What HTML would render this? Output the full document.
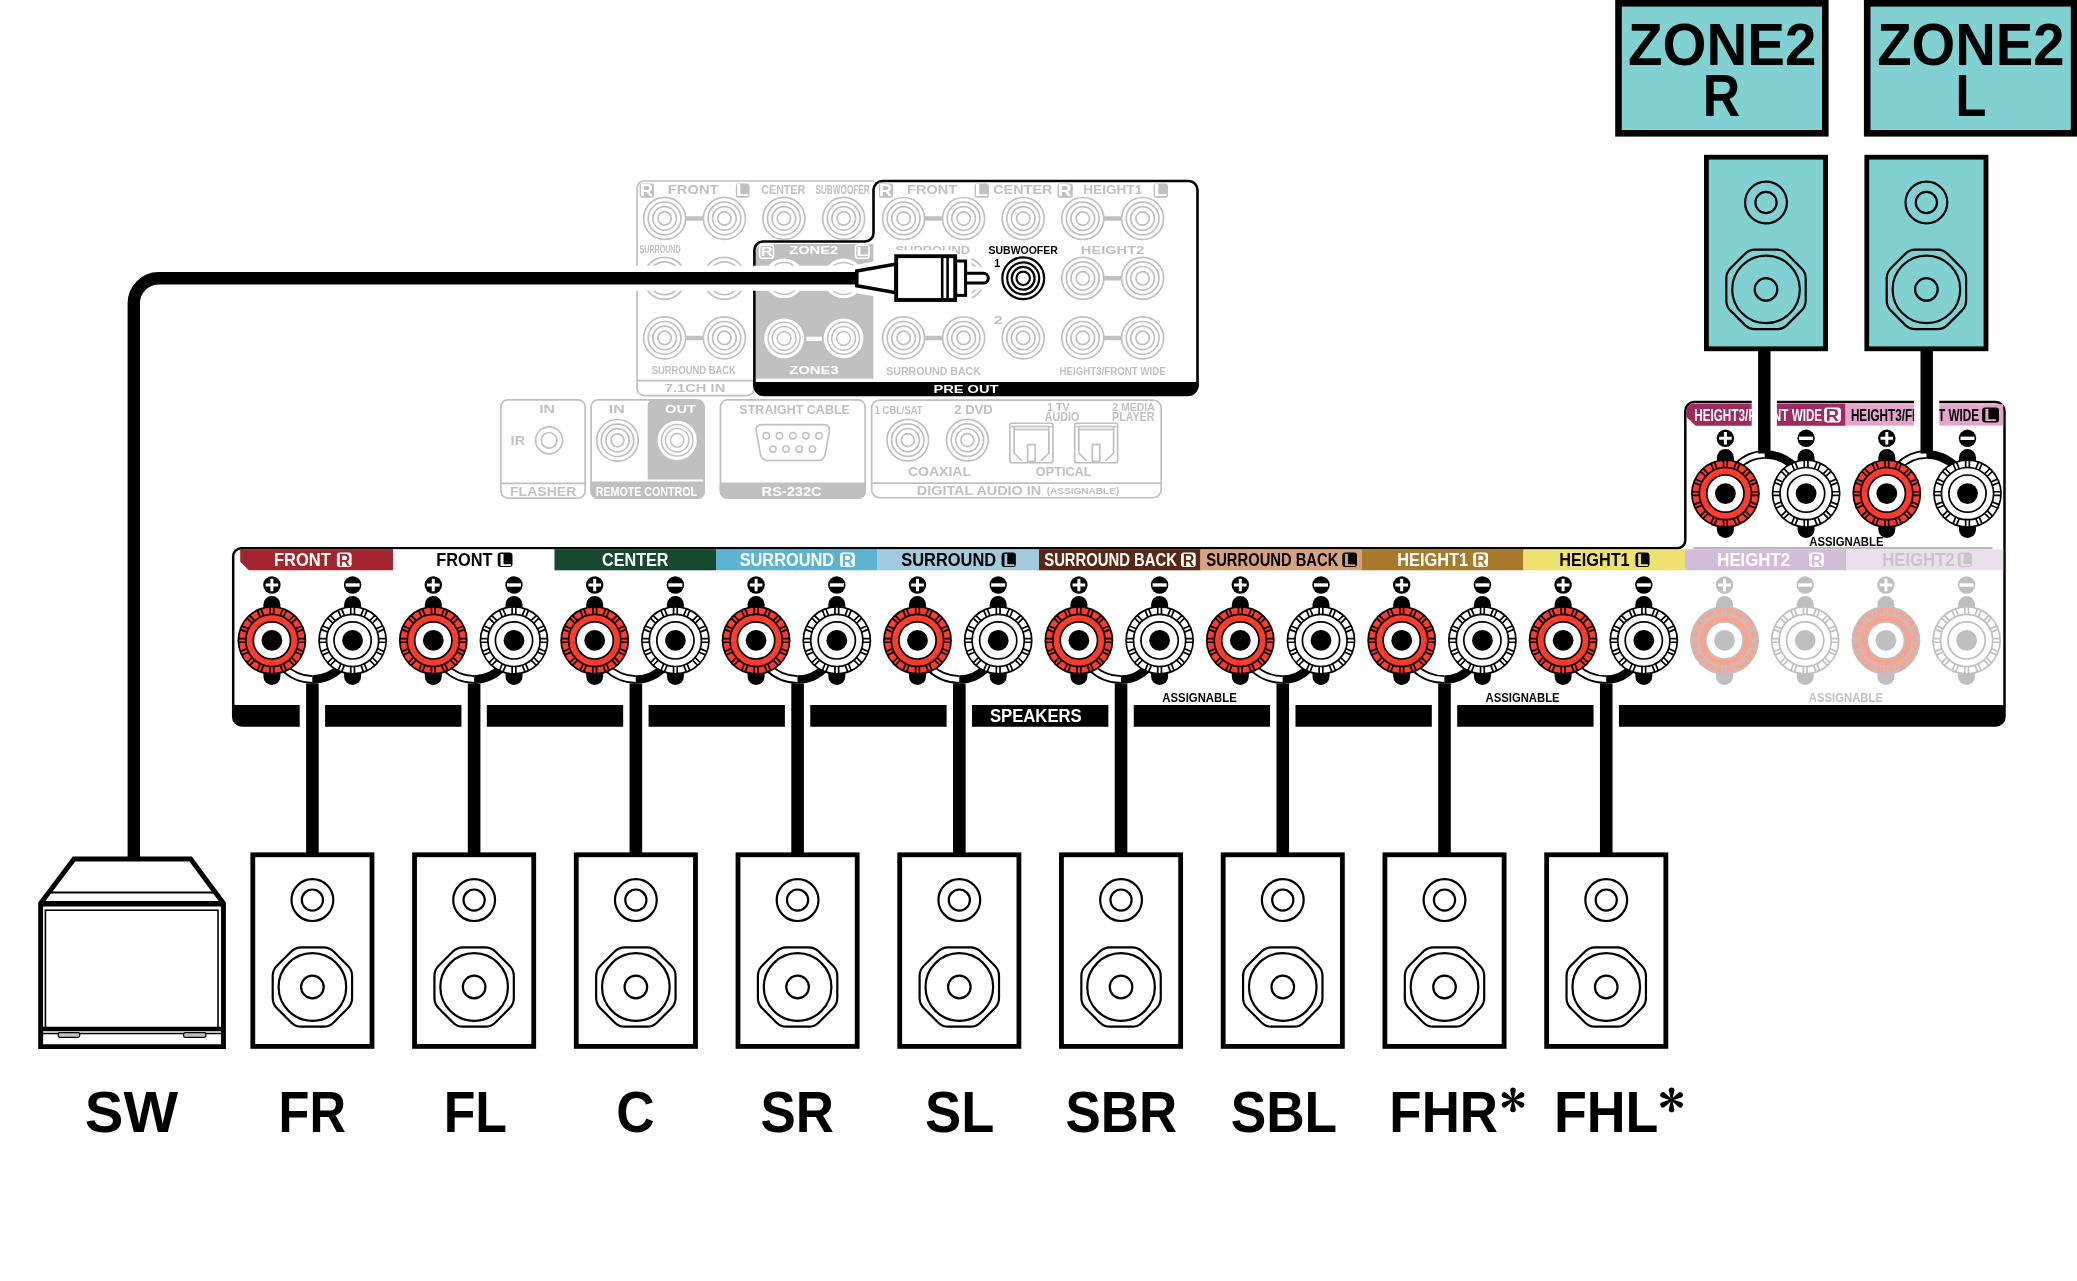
<!DOCTYPE html>
<html><head><meta charset="utf-8"><style>
html,body{margin:0;padding:0;background:#fff;overflow:hidden;width:2077px;height:1281px;}
svg{display:block;font-family:"Liberation Sans",sans-serif;will-change:transform;}
</style></head><body>
<svg width="2077" height="1281" viewBox="0 0 2077 1281">
<rect width="2077" height="1281" fill="#fff"/>
<path d="M233.2 706V556.2A8 8 0 0 1 241.2 548.2H1677.3A8 8 0 0 0 1685.3 540.2V411A9 9 0 0 1 1694.3 402H1995.5A9 9 0 0 1 2004.5 411V706" fill="none" stroke="#000" stroke-width="2.5"/>
<path d="M1693.5 548.2H1992.5" stroke="#B8B8B8" stroke-width="2.2"/>
<path d="M240.2 549.3H393.0V570.3H248.8L240.2 561.6999999999999Z" fill="#A3262F"/>
<text x="273.89" y="566.10" font-size="17.44" font-weight="bold" textLength="56.98" lengthAdjust="spacingAndGlyphs" fill="#fff">FRONT</text>
<rect x="336.90" y="552.4" width="14.70" height="14.6" rx="3" fill="#fff"/>
<text x="338.73" y="565.60" font-size="16.42" font-weight="bold" textLength="11.60" lengthAdjust="spacingAndGlyphs" fill="#A3262F">R</text>
<rect x="393.0" y="549.3" width="161.50" height="21.00" fill="#ffffff"/>
<text x="436.21" y="566.10" font-size="17.44" font-weight="bold" textLength="56.17" lengthAdjust="spacingAndGlyphs" fill="#000">FRONT</text>
<rect x="497.70" y="552.4" width="14.80" height="14.6" rx="3" fill="#000"/>
<text x="499.26" y="565.60" font-size="16.42" font-weight="bold" textLength="12.26" lengthAdjust="spacingAndGlyphs" fill="#ffffff">L</text>
<rect x="554.5" y="549.3" width="161.50" height="21.00" fill="#154A2F"/>
<text x="601.94" y="566.10" font-size="17.44" font-weight="bold" textLength="66.60" lengthAdjust="spacingAndGlyphs" fill="#fff">CENTER</text>
<rect x="716.0" y="549.3" width="161.50" height="21.00" fill="#5DB4D2"/>
<text x="739.63" y="566.10" font-size="17.44" font-weight="bold" textLength="94.46" lengthAdjust="spacingAndGlyphs" fill="#fff">SURROUND</text>
<rect x="840.00" y="552.4" width="14.80" height="14.6" rx="3" fill="#fff"/>
<text x="841.81" y="565.60" font-size="16.42" font-weight="bold" textLength="11.72" lengthAdjust="spacingAndGlyphs" fill="#5DB4D2">R</text>
<rect x="877.5" y="549.3" width="161.50" height="21.00" fill="#A2CCDD"/>
<text x="901.23" y="566.10" font-size="17.44" font-weight="bold" textLength="94.96" lengthAdjust="spacingAndGlyphs" fill="#000">SURROUND</text>
<rect x="1001.60" y="552.4" width="14.30" height="14.6" rx="3" fill="#000"/>
<text x="1003.22" y="565.60" font-size="16.42" font-weight="bold" textLength="11.66" lengthAdjust="spacingAndGlyphs" fill="#A2CCDD">L</text>
<rect x="1039.0" y="549.3" width="161.50" height="21.00" fill="#5B2714"/>
<text x="1044.27" y="566.10" font-size="17.44" font-weight="bold" textLength="132.66" lengthAdjust="spacingAndGlyphs" fill="#fff">SURROUND BACK</text>
<rect x="1181.00" y="552.4" width="14.70" height="14.6" rx="3" fill="#fff"/>
<text x="1182.83" y="565.60" font-size="16.42" font-weight="bold" textLength="11.60" lengthAdjust="spacingAndGlyphs" fill="#5B2714">R</text>
<rect x="1200.5" y="549.3" width="161.50" height="21.00" fill="#D8A27F"/>
<text x="1206.37" y="566.10" font-size="17.44" font-weight="bold" textLength="131.96" lengthAdjust="spacingAndGlyphs" fill="#000">SURROUND BACK</text>
<rect x="1342.30" y="552.4" width="14.70" height="14.6" rx="3" fill="#000"/>
<text x="1343.87" y="565.60" font-size="16.42" font-weight="bold" textLength="12.14" lengthAdjust="spacingAndGlyphs" fill="#D8A27F">L</text>
<rect x="1362.0" y="549.3" width="161.50" height="21.00" fill="#A67B2B"/>
<text x="1397.21" y="566.10" font-size="17.44" font-weight="bold" textLength="70.85" lengthAdjust="spacingAndGlyphs" fill="#fff">HEIGHT1</text>
<rect x="1473.20" y="552.4" width="14.80" height="14.6" rx="3" fill="#fff"/>
<text x="1475.01" y="565.60" font-size="16.42" font-weight="bold" textLength="11.72" lengthAdjust="spacingAndGlyphs" fill="#A67B2B">R</text>
<rect x="1523.5" y="549.3" width="161.50" height="21.00" fill="#EFE170"/>
<text x="1559.21" y="566.10" font-size="17.44" font-weight="bold" textLength="70.44" lengthAdjust="spacingAndGlyphs" fill="#000">HEIGHT1</text>
<rect x="1635.40" y="552.4" width="14.10" height="14.6" rx="3" fill="#000"/>
<text x="1637.05" y="565.60" font-size="16.42" font-weight="bold" textLength="11.43" lengthAdjust="spacingAndGlyphs" fill="#EFE170">L</text>
<rect x="1685.0" y="549.3" width="161.50" height="21.00" fill="#D3BCDA"/>
<text x="1717.28" y="566.10" font-size="17.44" font-weight="bold" textLength="72.80" lengthAdjust="spacingAndGlyphs" fill="#fff">HEIGHT2</text>
<rect x="1809.10" y="552.4" width="14.70" height="14.6" rx="3" fill="#fff"/>
<text x="1810.93" y="565.60" font-size="16.42" font-weight="bold" textLength="11.60" lengthAdjust="spacingAndGlyphs" fill="#D3BCDA">R</text>
<rect x="1846.5" y="549.3" width="156.70" height="21.00" fill="#EBDFEE"/>
<text x="1882.18" y="566.10" font-size="17.44" font-weight="bold" textLength="72.49" lengthAdjust="spacingAndGlyphs" fill="#C6C6C6">HEIGHT2</text>
<rect x="1957.80" y="552.4" width="14.10" height="14.6" rx="3" fill="#C6C6C6"/>
<text x="1959.45" y="565.60" font-size="16.42" font-weight="bold" textLength="11.43" lengthAdjust="spacingAndGlyphs" fill="#EBDFEE">L</text>
<path d="M1693.5 403.8H1845.6V425.8H1695.6L1686.6 417V410.7A6.9 6.9 0 0 1 1693.5 403.8Z" fill="#9E2A5F"/>
<rect x="1845.6" y="404.2" width="157.6" height="21.4" fill="#E3A3CC"/>
<text x="1694.32" y="420.80" font-size="16.28" font-weight="bold" textLength="127.84" lengthAdjust="spacingAndGlyphs" fill="#fff">HEIGHT3/FRONT WIDE</text>
<rect x="1824.1" y="407.4" width="16.8" height="15" rx="3" fill="#fff"/>
<text x="1825.67" y="420.80" font-size="16.57" font-weight="bold" textLength="13.31" lengthAdjust="spacingAndGlyphs" fill="#9E2A5F">R</text>
<text x="1850.92" y="420.80" font-size="16.28" font-weight="bold" textLength="128.14" lengthAdjust="spacingAndGlyphs" fill="#000">HEIGHT3/FRONT WIDE</text>
<rect x="1982.1" y="407.4" width="16.9" height="15" rx="3" fill="#000"/>
<text x="1984.02" y="420.80" font-size="16.57" font-weight="bold" textLength="12.62" lengthAdjust="spacingAndGlyphs" fill="#E3A3CC">L</text>
<circle cx="271.90" cy="585.00" r="8.7" fill="#000"/><path d="M265.60 585.00H278.20M271.90 578.70V591.30" stroke="#fff" stroke-width="3"/>
<circle cx="352.60" cy="585.00" r="8.7" fill="#000"/><path d="M345.60 585.00H359.60" stroke="#fff" stroke-width="3.4"/>
<circle cx="433.30" cy="585.00" r="8.7" fill="#000"/><path d="M427.00 585.00H439.60M433.30 578.70V591.30" stroke="#fff" stroke-width="3"/>
<circle cx="514.00" cy="585.00" r="8.7" fill="#000"/><path d="M507.00 585.00H521.00" stroke="#fff" stroke-width="3.4"/>
<circle cx="594.70" cy="585.00" r="8.7" fill="#000"/><path d="M588.40 585.00H601.00M594.70 578.70V591.30" stroke="#fff" stroke-width="3"/>
<circle cx="675.40" cy="585.00" r="8.7" fill="#000"/><path d="M668.40 585.00H682.40" stroke="#fff" stroke-width="3.4"/>
<circle cx="756.10" cy="585.00" r="8.7" fill="#000"/><path d="M749.80 585.00H762.40M756.10 578.70V591.30" stroke="#fff" stroke-width="3"/>
<circle cx="836.80" cy="585.00" r="8.7" fill="#000"/><path d="M829.80 585.00H843.80" stroke="#fff" stroke-width="3.4"/>
<circle cx="917.50" cy="585.00" r="8.7" fill="#000"/><path d="M911.20 585.00H923.80M917.50 578.70V591.30" stroke="#fff" stroke-width="3"/>
<circle cx="998.20" cy="585.00" r="8.7" fill="#000"/><path d="M991.20 585.00H1005.20" stroke="#fff" stroke-width="3.4"/>
<circle cx="1078.90" cy="585.00" r="8.7" fill="#000"/><path d="M1072.60 585.00H1085.20M1078.90 578.70V591.30" stroke="#fff" stroke-width="3"/>
<circle cx="1159.60" cy="585.00" r="8.7" fill="#000"/><path d="M1152.60 585.00H1166.60" stroke="#fff" stroke-width="3.4"/>
<circle cx="1240.30" cy="585.00" r="8.7" fill="#000"/><path d="M1234.00 585.00H1246.60M1240.30 578.70V591.30" stroke="#fff" stroke-width="3"/>
<circle cx="1321.00" cy="585.00" r="8.7" fill="#000"/><path d="M1314.00 585.00H1328.00" stroke="#fff" stroke-width="3.4"/>
<circle cx="1401.70" cy="585.00" r="8.7" fill="#000"/><path d="M1395.40 585.00H1408.00M1401.70 578.70V591.30" stroke="#fff" stroke-width="3"/>
<circle cx="1482.40" cy="585.00" r="8.7" fill="#000"/><path d="M1475.40 585.00H1489.40" stroke="#fff" stroke-width="3.4"/>
<circle cx="1563.10" cy="585.00" r="8.7" fill="#000"/><path d="M1556.80 585.00H1569.40M1563.10 578.70V591.30" stroke="#fff" stroke-width="3"/>
<circle cx="1643.80" cy="585.00" r="8.7" fill="#000"/><path d="M1636.80 585.00H1650.80" stroke="#fff" stroke-width="3.4"/>
<circle cx="1724.50" cy="585.00" r="8.7" fill="#BFBFBF"/><path d="M1718.20 585.00H1730.80M1724.50 578.70V591.30" stroke="#fff" stroke-width="3"/>
<circle cx="1805.20" cy="585.00" r="8.7" fill="#BFBFBF"/><path d="M1798.20 585.00H1812.20" stroke="#fff" stroke-width="3.4"/>
<circle cx="1885.90" cy="585.00" r="8.7" fill="#BFBFBF"/><path d="M1879.60 585.00H1892.20M1885.90 578.70V591.30" stroke="#fff" stroke-width="3"/>
<circle cx="1966.60" cy="585.00" r="8.7" fill="#BFBFBF"/><path d="M1959.60 585.00H1973.60" stroke="#fff" stroke-width="3.4"/>
<path d="M271.90 638.00A40.50 41.5 0 0 0 312.40 679.50" fill="none" stroke="#000" stroke-width="8.6"/><path d="M271.90 638.00A40.50 41.5 0 0 0 312.40 679.50" fill="none" stroke="#fff" stroke-width="5.0"/><path d="M312.40 679.50A40.20 41.5 0 0 0 352.60 638.00" fill="none" stroke="#000" stroke-width="8.6"/>
<path d="M433.30 638.00A40.83 41.5 0 0 0 474.13 679.50" fill="none" stroke="#000" stroke-width="8.6"/><path d="M433.30 638.00A40.83 41.5 0 0 0 474.13 679.50" fill="none" stroke="#fff" stroke-width="5.0"/><path d="M474.13 679.50A39.87 41.5 0 0 0 514.00 638.00" fill="none" stroke="#000" stroke-width="8.6"/>
<path d="M594.70 638.00A41.16 41.5 0 0 0 635.86 679.50" fill="none" stroke="#000" stroke-width="8.6"/><path d="M594.70 638.00A41.16 41.5 0 0 0 635.86 679.50" fill="none" stroke="#fff" stroke-width="5.0"/><path d="M635.86 679.50A39.54 41.5 0 0 0 675.40 638.00" fill="none" stroke="#000" stroke-width="8.6"/>
<path d="M756.10 638.00A41.49 41.5 0 0 0 797.59 679.50" fill="none" stroke="#000" stroke-width="8.6"/><path d="M756.10 638.00A41.49 41.5 0 0 0 797.59 679.50" fill="none" stroke="#fff" stroke-width="5.0"/><path d="M797.59 679.50A39.21 41.5 0 0 0 836.80 638.00" fill="none" stroke="#000" stroke-width="8.6"/>
<path d="M917.50 638.00A41.82 41.5 0 0 0 959.32 679.50" fill="none" stroke="#000" stroke-width="8.6"/><path d="M917.50 638.00A41.82 41.5 0 0 0 959.32 679.50" fill="none" stroke="#fff" stroke-width="5.0"/><path d="M959.32 679.50A38.88 41.5 0 0 0 998.20 638.00" fill="none" stroke="#000" stroke-width="8.6"/>
<path d="M1078.90 638.00A42.15 41.5 0 0 0 1121.05 679.50" fill="none" stroke="#000" stroke-width="8.6"/><path d="M1078.90 638.00A42.15 41.5 0 0 0 1121.05 679.50" fill="none" stroke="#fff" stroke-width="5.0"/><path d="M1121.05 679.50A38.55 41.5 0 0 0 1159.60 638.00" fill="none" stroke="#000" stroke-width="8.6"/>
<path d="M1240.30 638.00A42.48 41.5 0 0 0 1282.78 679.50" fill="none" stroke="#000" stroke-width="8.6"/><path d="M1240.30 638.00A42.48 41.5 0 0 0 1282.78 679.50" fill="none" stroke="#fff" stroke-width="5.0"/><path d="M1282.78 679.50A38.22 41.5 0 0 0 1321.00 638.00" fill="none" stroke="#000" stroke-width="8.6"/>
<path d="M1401.70 638.00A42.81 41.5 0 0 0 1444.51 679.50" fill="none" stroke="#000" stroke-width="8.6"/><path d="M1401.70 638.00A42.81 41.5 0 0 0 1444.51 679.50" fill="none" stroke="#fff" stroke-width="5.0"/><path d="M1444.51 679.50A37.89 41.5 0 0 0 1482.40 638.00" fill="none" stroke="#000" stroke-width="8.6"/>
<path d="M1563.10 638.00A43.14 41.5 0 0 0 1606.24 679.50" fill="none" stroke="#000" stroke-width="8.6"/><path d="M1563.10 638.00A43.14 41.5 0 0 0 1606.24 679.50" fill="none" stroke="#fff" stroke-width="5.0"/><path d="M1606.24 679.50A37.56 41.5 0 0 0 1643.80 638.00" fill="none" stroke="#000" stroke-width="8.6"/>
<rect x="263.40" y="595.90" width="17" height="89" rx="8.5" fill="#000"/><circle cx="271.90" cy="640.40" r="34.4" fill="#000"/><circle cx="271.90" cy="640.40" r="32.7" fill="#FF3B2B"/><path d="M270.05 614.40L270.05 607.10M273.75 614.40L273.75 607.10M280.14 615.67L282.93 608.93M283.56 617.09L286.35 610.34M288.98 620.71L294.14 615.55M291.59 623.32L296.75 618.16M295.21 628.74L301.96 625.95M296.63 632.16L303.37 629.37M297.90 638.55L305.20 638.55M297.90 642.25L305.20 642.25M296.63 648.64L303.37 651.43M295.21 652.06L301.96 654.85M291.59 657.48L296.75 662.64M288.98 660.09L294.14 665.25M283.56 663.71L286.35 670.46M280.14 665.13L282.93 671.87M273.75 666.40L273.75 673.70M270.05 666.40L270.05 673.70M263.66 665.13L260.87 671.87M260.24 663.71L257.45 670.46M254.82 660.09L249.66 665.25M252.21 657.48L247.05 662.64M248.59 652.06L241.84 654.85M247.17 648.64L240.43 651.43M245.90 642.25L238.60 642.25M245.90 638.55L238.60 638.55M247.17 632.16L240.43 629.37M248.59 628.74L241.84 625.95M252.21 623.32L247.05 618.16M254.82 620.71L249.66 615.55M260.24 617.09L257.45 610.34M263.66 615.67L260.87 608.93" stroke="#000" stroke-width="1.7"/><circle cx="271.90" cy="640.40" r="26.1" fill="#FF3B2B" stroke="#000" stroke-width="1.7"/><circle cx="271.90" cy="640.40" r="18.6" fill="#fff" stroke="#000" stroke-width="1.7"/><circle cx="271.90" cy="640.40" r="10.4" fill="#000"/>
<rect x="344.10" y="595.90" width="17" height="89" rx="8.5" fill="#000"/><circle cx="352.60" cy="640.40" r="34.4" fill="#000"/><circle cx="352.60" cy="640.40" r="32.7" fill="#fff"/><path d="M350.75 614.40L350.75 607.10M354.45 614.40L354.45 607.10M360.84 615.67L363.63 608.93M364.26 617.09L367.05 610.34M369.68 620.71L374.84 615.55M372.29 623.32L377.45 618.16M375.91 628.74L382.66 625.95M377.33 632.16L384.07 629.37M378.60 638.55L385.90 638.55M378.60 642.25L385.90 642.25M377.33 648.64L384.07 651.43M375.91 652.06L382.66 654.85M372.29 657.48L377.45 662.64M369.68 660.09L374.84 665.25M364.26 663.71L367.05 670.46M360.84 665.13L363.63 671.87M354.45 666.40L354.45 673.70M350.75 666.40L350.75 673.70M344.36 665.13L341.57 671.87M340.94 663.71L338.15 670.46M335.52 660.09L330.36 665.25M332.91 657.48L327.75 662.64M329.29 652.06L322.54 654.85M327.87 648.64L321.13 651.43M326.60 642.25L319.30 642.25M326.60 638.55L319.30 638.55M327.87 632.16L321.13 629.37M329.29 628.74L322.54 625.95M332.91 623.32L327.75 618.16M335.52 620.71L330.36 615.55M340.94 617.09L338.15 610.34M344.36 615.67L341.57 608.93" stroke="#000" stroke-width="1.7"/><circle cx="352.60" cy="640.40" r="26.1" fill="#fff" stroke="#000" stroke-width="1.7"/><circle cx="352.60" cy="640.40" r="18.6" fill="#fff" stroke="#000" stroke-width="1.7"/><circle cx="352.60" cy="640.40" r="10.4" fill="#000"/>
<rect x="424.80" y="595.90" width="17" height="89" rx="8.5" fill="#000"/><circle cx="433.30" cy="640.40" r="34.4" fill="#000"/><circle cx="433.30" cy="640.40" r="32.7" fill="#FF3B2B"/><path d="M431.45 614.40L431.45 607.10M435.15 614.40L435.15 607.10M441.54 615.67L444.33 608.93M444.96 617.09L447.75 610.34M450.38 620.71L455.54 615.55M452.99 623.32L458.15 618.16M456.61 628.74L463.36 625.95M458.03 632.16L464.77 629.37M459.30 638.55L466.60 638.55M459.30 642.25L466.60 642.25M458.03 648.64L464.77 651.43M456.61 652.06L463.36 654.85M452.99 657.48L458.15 662.64M450.38 660.09L455.54 665.25M444.96 663.71L447.75 670.46M441.54 665.13L444.33 671.87M435.15 666.40L435.15 673.70M431.45 666.40L431.45 673.70M425.06 665.13L422.27 671.87M421.64 663.71L418.85 670.46M416.22 660.09L411.06 665.25M413.61 657.48L408.45 662.64M409.99 652.06L403.24 654.85M408.57 648.64L401.83 651.43M407.30 642.25L400.00 642.25M407.30 638.55L400.00 638.55M408.57 632.16L401.83 629.37M409.99 628.74L403.24 625.95M413.61 623.32L408.45 618.16M416.22 620.71L411.06 615.55M421.64 617.09L418.85 610.34M425.06 615.67L422.27 608.93" stroke="#000" stroke-width="1.7"/><circle cx="433.30" cy="640.40" r="26.1" fill="#FF3B2B" stroke="#000" stroke-width="1.7"/><circle cx="433.30" cy="640.40" r="18.6" fill="#fff" stroke="#000" stroke-width="1.7"/><circle cx="433.30" cy="640.40" r="10.4" fill="#000"/>
<rect x="505.50" y="595.90" width="17" height="89" rx="8.5" fill="#000"/><circle cx="514.00" cy="640.40" r="34.4" fill="#000"/><circle cx="514.00" cy="640.40" r="32.7" fill="#fff"/><path d="M512.15 614.40L512.15 607.10M515.85 614.40L515.85 607.10M522.24 615.67L525.03 608.93M525.66 617.09L528.45 610.34M531.08 620.71L536.24 615.55M533.69 623.32L538.85 618.16M537.31 628.74L544.06 625.95M538.73 632.16L545.47 629.37M540.00 638.55L547.30 638.55M540.00 642.25L547.30 642.25M538.73 648.64L545.47 651.43M537.31 652.06L544.06 654.85M533.69 657.48L538.85 662.64M531.08 660.09L536.24 665.25M525.66 663.71L528.45 670.46M522.24 665.13L525.03 671.87M515.85 666.40L515.85 673.70M512.15 666.40L512.15 673.70M505.76 665.13L502.97 671.87M502.34 663.71L499.55 670.46M496.92 660.09L491.76 665.25M494.31 657.48L489.15 662.64M490.69 652.06L483.94 654.85M489.27 648.64L482.53 651.43M488.00 642.25L480.70 642.25M488.00 638.55L480.70 638.55M489.27 632.16L482.53 629.37M490.69 628.74L483.94 625.95M494.31 623.32L489.15 618.16M496.92 620.71L491.76 615.55M502.34 617.09L499.55 610.34M505.76 615.67L502.97 608.93" stroke="#000" stroke-width="1.7"/><circle cx="514.00" cy="640.40" r="26.1" fill="#fff" stroke="#000" stroke-width="1.7"/><circle cx="514.00" cy="640.40" r="18.6" fill="#fff" stroke="#000" stroke-width="1.7"/><circle cx="514.00" cy="640.40" r="10.4" fill="#000"/>
<rect x="586.20" y="595.90" width="17" height="89" rx="8.5" fill="#000"/><circle cx="594.70" cy="640.40" r="34.4" fill="#000"/><circle cx="594.70" cy="640.40" r="32.7" fill="#FF3B2B"/><path d="M592.85 614.40L592.85 607.10M596.55 614.40L596.55 607.10M602.94 615.67L605.73 608.93M606.36 617.09L609.15 610.34M611.78 620.71L616.94 615.55M614.39 623.32L619.55 618.16M618.01 628.74L624.76 625.95M619.43 632.16L626.17 629.37M620.70 638.55L628.00 638.55M620.70 642.25L628.00 642.25M619.43 648.64L626.17 651.43M618.01 652.06L624.76 654.85M614.39 657.48L619.55 662.64M611.78 660.09L616.94 665.25M606.36 663.71L609.15 670.46M602.94 665.13L605.73 671.87M596.55 666.40L596.55 673.70M592.85 666.40L592.85 673.70M586.46 665.13L583.67 671.87M583.04 663.71L580.25 670.46M577.62 660.09L572.46 665.25M575.01 657.48L569.85 662.64M571.39 652.06L564.64 654.85M569.97 648.64L563.23 651.43M568.70 642.25L561.40 642.25M568.70 638.55L561.40 638.55M569.97 632.16L563.23 629.37M571.39 628.74L564.64 625.95M575.01 623.32L569.85 618.16M577.62 620.71L572.46 615.55M583.04 617.09L580.25 610.34M586.46 615.67L583.67 608.93" stroke="#000" stroke-width="1.7"/><circle cx="594.70" cy="640.40" r="26.1" fill="#FF3B2B" stroke="#000" stroke-width="1.7"/><circle cx="594.70" cy="640.40" r="18.6" fill="#fff" stroke="#000" stroke-width="1.7"/><circle cx="594.70" cy="640.40" r="10.4" fill="#000"/>
<rect x="666.90" y="595.90" width="17" height="89" rx="8.5" fill="#000"/><circle cx="675.40" cy="640.40" r="34.4" fill="#000"/><circle cx="675.40" cy="640.40" r="32.7" fill="#fff"/><path d="M673.55 614.40L673.55 607.10M677.25 614.40L677.25 607.10M683.64 615.67L686.43 608.93M687.06 617.09L689.85 610.34M692.48 620.71L697.64 615.55M695.09 623.32L700.25 618.16M698.71 628.74L705.46 625.95M700.13 632.16L706.87 629.37M701.40 638.55L708.70 638.55M701.40 642.25L708.70 642.25M700.13 648.64L706.87 651.43M698.71 652.06L705.46 654.85M695.09 657.48L700.25 662.64M692.48 660.09L697.64 665.25M687.06 663.71L689.85 670.46M683.64 665.13L686.43 671.87M677.25 666.40L677.25 673.70M673.55 666.40L673.55 673.70M667.16 665.13L664.37 671.87M663.74 663.71L660.95 670.46M658.32 660.09L653.16 665.25M655.71 657.48L650.55 662.64M652.09 652.06L645.34 654.85M650.67 648.64L643.93 651.43M649.40 642.25L642.10 642.25M649.40 638.55L642.10 638.55M650.67 632.16L643.93 629.37M652.09 628.74L645.34 625.95M655.71 623.32L650.55 618.16M658.32 620.71L653.16 615.55M663.74 617.09L660.95 610.34M667.16 615.67L664.37 608.93" stroke="#000" stroke-width="1.7"/><circle cx="675.40" cy="640.40" r="26.1" fill="#fff" stroke="#000" stroke-width="1.7"/><circle cx="675.40" cy="640.40" r="18.6" fill="#fff" stroke="#000" stroke-width="1.7"/><circle cx="675.40" cy="640.40" r="10.4" fill="#000"/>
<rect x="747.60" y="595.90" width="17" height="89" rx="8.5" fill="#000"/><circle cx="756.10" cy="640.40" r="34.4" fill="#000"/><circle cx="756.10" cy="640.40" r="32.7" fill="#FF3B2B"/><path d="M754.25 614.40L754.25 607.10M757.95 614.40L757.95 607.10M764.34 615.67L767.13 608.93M767.76 617.09L770.55 610.34M773.18 620.71L778.34 615.55M775.79 623.32L780.95 618.16M779.41 628.74L786.16 625.95M780.83 632.16L787.57 629.37M782.10 638.55L789.40 638.55M782.10 642.25L789.40 642.25M780.83 648.64L787.57 651.43M779.41 652.06L786.16 654.85M775.79 657.48L780.95 662.64M773.18 660.09L778.34 665.25M767.76 663.71L770.55 670.46M764.34 665.13L767.13 671.87M757.95 666.40L757.95 673.70M754.25 666.40L754.25 673.70M747.86 665.13L745.07 671.87M744.44 663.71L741.65 670.46M739.02 660.09L733.86 665.25M736.41 657.48L731.25 662.64M732.79 652.06L726.04 654.85M731.37 648.64L724.63 651.43M730.10 642.25L722.80 642.25M730.10 638.55L722.80 638.55M731.37 632.16L724.63 629.37M732.79 628.74L726.04 625.95M736.41 623.32L731.25 618.16M739.02 620.71L733.86 615.55M744.44 617.09L741.65 610.34M747.86 615.67L745.07 608.93" stroke="#000" stroke-width="1.7"/><circle cx="756.10" cy="640.40" r="26.1" fill="#FF3B2B" stroke="#000" stroke-width="1.7"/><circle cx="756.10" cy="640.40" r="18.6" fill="#fff" stroke="#000" stroke-width="1.7"/><circle cx="756.10" cy="640.40" r="10.4" fill="#000"/>
<rect x="828.30" y="595.90" width="17" height="89" rx="8.5" fill="#000"/><circle cx="836.80" cy="640.40" r="34.4" fill="#000"/><circle cx="836.80" cy="640.40" r="32.7" fill="#fff"/><path d="M834.95 614.40L834.95 607.10M838.65 614.40L838.65 607.10M845.04 615.67L847.83 608.93M848.46 617.09L851.25 610.34M853.88 620.71L859.04 615.55M856.49 623.32L861.65 618.16M860.11 628.74L866.86 625.95M861.53 632.16L868.27 629.37M862.80 638.55L870.10 638.55M862.80 642.25L870.10 642.25M861.53 648.64L868.27 651.43M860.11 652.06L866.86 654.85M856.49 657.48L861.65 662.64M853.88 660.09L859.04 665.25M848.46 663.71L851.25 670.46M845.04 665.13L847.83 671.87M838.65 666.40L838.65 673.70M834.95 666.40L834.95 673.70M828.56 665.13L825.77 671.87M825.14 663.71L822.35 670.46M819.72 660.09L814.56 665.25M817.11 657.48L811.95 662.64M813.49 652.06L806.74 654.85M812.07 648.64L805.33 651.43M810.80 642.25L803.50 642.25M810.80 638.55L803.50 638.55M812.07 632.16L805.33 629.37M813.49 628.74L806.74 625.95M817.11 623.32L811.95 618.16M819.72 620.71L814.56 615.55M825.14 617.09L822.35 610.34M828.56 615.67L825.77 608.93" stroke="#000" stroke-width="1.7"/><circle cx="836.80" cy="640.40" r="26.1" fill="#fff" stroke="#000" stroke-width="1.7"/><circle cx="836.80" cy="640.40" r="18.6" fill="#fff" stroke="#000" stroke-width="1.7"/><circle cx="836.80" cy="640.40" r="10.4" fill="#000"/>
<rect x="909.00" y="595.90" width="17" height="89" rx="8.5" fill="#000"/><circle cx="917.50" cy="640.40" r="34.4" fill="#000"/><circle cx="917.50" cy="640.40" r="32.7" fill="#FF3B2B"/><path d="M915.65 614.40L915.65 607.10M919.35 614.40L919.35 607.10M925.74 615.67L928.53 608.93M929.16 617.09L931.95 610.34M934.58 620.71L939.74 615.55M937.19 623.32L942.35 618.16M940.81 628.74L947.56 625.95M942.23 632.16L948.97 629.37M943.50 638.55L950.80 638.55M943.50 642.25L950.80 642.25M942.23 648.64L948.97 651.43M940.81 652.06L947.56 654.85M937.19 657.48L942.35 662.64M934.58 660.09L939.74 665.25M929.16 663.71L931.95 670.46M925.74 665.13L928.53 671.87M919.35 666.40L919.35 673.70M915.65 666.40L915.65 673.70M909.26 665.13L906.47 671.87M905.84 663.71L903.05 670.46M900.42 660.09L895.26 665.25M897.81 657.48L892.65 662.64M894.19 652.06L887.44 654.85M892.77 648.64L886.03 651.43M891.50 642.25L884.20 642.25M891.50 638.55L884.20 638.55M892.77 632.16L886.03 629.37M894.19 628.74L887.44 625.95M897.81 623.32L892.65 618.16M900.42 620.71L895.26 615.55M905.84 617.09L903.05 610.34M909.26 615.67L906.47 608.93" stroke="#000" stroke-width="1.7"/><circle cx="917.50" cy="640.40" r="26.1" fill="#FF3B2B" stroke="#000" stroke-width="1.7"/><circle cx="917.50" cy="640.40" r="18.6" fill="#fff" stroke="#000" stroke-width="1.7"/><circle cx="917.50" cy="640.40" r="10.4" fill="#000"/>
<rect x="989.70" y="595.90" width="17" height="89" rx="8.5" fill="#000"/><circle cx="998.20" cy="640.40" r="34.4" fill="#000"/><circle cx="998.20" cy="640.40" r="32.7" fill="#fff"/><path d="M996.35 614.40L996.35 607.10M1000.05 614.40L1000.05 607.10M1006.44 615.67L1009.23 608.93M1009.86 617.09L1012.65 610.34M1015.28 620.71L1020.44 615.55M1017.89 623.32L1023.05 618.16M1021.51 628.74L1028.26 625.95M1022.93 632.16L1029.67 629.37M1024.20 638.55L1031.50 638.55M1024.20 642.25L1031.50 642.25M1022.93 648.64L1029.67 651.43M1021.51 652.06L1028.26 654.85M1017.89 657.48L1023.05 662.64M1015.28 660.09L1020.44 665.25M1009.86 663.71L1012.65 670.46M1006.44 665.13L1009.23 671.87M1000.05 666.40L1000.05 673.70M996.35 666.40L996.35 673.70M989.96 665.13L987.17 671.87M986.54 663.71L983.75 670.46M981.12 660.09L975.96 665.25M978.51 657.48L973.35 662.64M974.89 652.06L968.14 654.85M973.47 648.64L966.73 651.43M972.20 642.25L964.90 642.25M972.20 638.55L964.90 638.55M973.47 632.16L966.73 629.37M974.89 628.74L968.14 625.95M978.51 623.32L973.35 618.16M981.12 620.71L975.96 615.55M986.54 617.09L983.75 610.34M989.96 615.67L987.17 608.93" stroke="#000" stroke-width="1.7"/><circle cx="998.20" cy="640.40" r="26.1" fill="#fff" stroke="#000" stroke-width="1.7"/><circle cx="998.20" cy="640.40" r="18.6" fill="#fff" stroke="#000" stroke-width="1.7"/><circle cx="998.20" cy="640.40" r="10.4" fill="#000"/>
<rect x="1070.40" y="595.90" width="17" height="89" rx="8.5" fill="#000"/><circle cx="1078.90" cy="640.40" r="34.4" fill="#000"/><circle cx="1078.90" cy="640.40" r="32.7" fill="#FF3B2B"/><path d="M1077.05 614.40L1077.05 607.10M1080.75 614.40L1080.75 607.10M1087.14 615.67L1089.93 608.93M1090.56 617.09L1093.35 610.34M1095.98 620.71L1101.14 615.55M1098.59 623.32L1103.75 618.16M1102.21 628.74L1108.96 625.95M1103.63 632.16L1110.37 629.37M1104.90 638.55L1112.20 638.55M1104.90 642.25L1112.20 642.25M1103.63 648.64L1110.37 651.43M1102.21 652.06L1108.96 654.85M1098.59 657.48L1103.75 662.64M1095.98 660.09L1101.14 665.25M1090.56 663.71L1093.35 670.46M1087.14 665.13L1089.93 671.87M1080.75 666.40L1080.75 673.70M1077.05 666.40L1077.05 673.70M1070.66 665.13L1067.87 671.87M1067.24 663.71L1064.45 670.46M1061.82 660.09L1056.66 665.25M1059.21 657.48L1054.05 662.64M1055.59 652.06L1048.84 654.85M1054.17 648.64L1047.43 651.43M1052.90 642.25L1045.60 642.25M1052.90 638.55L1045.60 638.55M1054.17 632.16L1047.43 629.37M1055.59 628.74L1048.84 625.95M1059.21 623.32L1054.05 618.16M1061.82 620.71L1056.66 615.55M1067.24 617.09L1064.45 610.34M1070.66 615.67L1067.87 608.93" stroke="#000" stroke-width="1.7"/><circle cx="1078.90" cy="640.40" r="26.1" fill="#FF3B2B" stroke="#000" stroke-width="1.7"/><circle cx="1078.90" cy="640.40" r="18.6" fill="#fff" stroke="#000" stroke-width="1.7"/><circle cx="1078.90" cy="640.40" r="10.4" fill="#000"/>
<rect x="1151.10" y="595.90" width="17" height="89" rx="8.5" fill="#000"/><circle cx="1159.60" cy="640.40" r="34.4" fill="#000"/><circle cx="1159.60" cy="640.40" r="32.7" fill="#fff"/><path d="M1157.75 614.40L1157.75 607.10M1161.45 614.40L1161.45 607.10M1167.84 615.67L1170.63 608.93M1171.26 617.09L1174.05 610.34M1176.68 620.71L1181.84 615.55M1179.29 623.32L1184.45 618.16M1182.91 628.74L1189.66 625.95M1184.33 632.16L1191.07 629.37M1185.60 638.55L1192.90 638.55M1185.60 642.25L1192.90 642.25M1184.33 648.64L1191.07 651.43M1182.91 652.06L1189.66 654.85M1179.29 657.48L1184.45 662.64M1176.68 660.09L1181.84 665.25M1171.26 663.71L1174.05 670.46M1167.84 665.13L1170.63 671.87M1161.45 666.40L1161.45 673.70M1157.75 666.40L1157.75 673.70M1151.36 665.13L1148.57 671.87M1147.94 663.71L1145.15 670.46M1142.52 660.09L1137.36 665.25M1139.91 657.48L1134.75 662.64M1136.29 652.06L1129.54 654.85M1134.87 648.64L1128.13 651.43M1133.60 642.25L1126.30 642.25M1133.60 638.55L1126.30 638.55M1134.87 632.16L1128.13 629.37M1136.29 628.74L1129.54 625.95M1139.91 623.32L1134.75 618.16M1142.52 620.71L1137.36 615.55M1147.94 617.09L1145.15 610.34M1151.36 615.67L1148.57 608.93" stroke="#000" stroke-width="1.7"/><circle cx="1159.60" cy="640.40" r="26.1" fill="#fff" stroke="#000" stroke-width="1.7"/><circle cx="1159.60" cy="640.40" r="18.6" fill="#fff" stroke="#000" stroke-width="1.7"/><circle cx="1159.60" cy="640.40" r="10.4" fill="#000"/>
<rect x="1231.80" y="595.90" width="17" height="89" rx="8.5" fill="#000"/><circle cx="1240.30" cy="640.40" r="34.4" fill="#000"/><circle cx="1240.30" cy="640.40" r="32.7" fill="#FF3B2B"/><path d="M1238.45 614.40L1238.45 607.10M1242.15 614.40L1242.15 607.10M1248.54 615.67L1251.33 608.93M1251.96 617.09L1254.75 610.34M1257.38 620.71L1262.54 615.55M1259.99 623.32L1265.15 618.16M1263.61 628.74L1270.36 625.95M1265.03 632.16L1271.77 629.37M1266.30 638.55L1273.60 638.55M1266.30 642.25L1273.60 642.25M1265.03 648.64L1271.77 651.43M1263.61 652.06L1270.36 654.85M1259.99 657.48L1265.15 662.64M1257.38 660.09L1262.54 665.25M1251.96 663.71L1254.75 670.46M1248.54 665.13L1251.33 671.87M1242.15 666.40L1242.15 673.70M1238.45 666.40L1238.45 673.70M1232.06 665.13L1229.27 671.87M1228.64 663.71L1225.85 670.46M1223.22 660.09L1218.06 665.25M1220.61 657.48L1215.45 662.64M1216.99 652.06L1210.24 654.85M1215.57 648.64L1208.83 651.43M1214.30 642.25L1207.00 642.25M1214.30 638.55L1207.00 638.55M1215.57 632.16L1208.83 629.37M1216.99 628.74L1210.24 625.95M1220.61 623.32L1215.45 618.16M1223.22 620.71L1218.06 615.55M1228.64 617.09L1225.85 610.34M1232.06 615.67L1229.27 608.93" stroke="#000" stroke-width="1.7"/><circle cx="1240.30" cy="640.40" r="26.1" fill="#FF3B2B" stroke="#000" stroke-width="1.7"/><circle cx="1240.30" cy="640.40" r="18.6" fill="#fff" stroke="#000" stroke-width="1.7"/><circle cx="1240.30" cy="640.40" r="10.4" fill="#000"/>
<rect x="1312.50" y="595.90" width="17" height="89" rx="8.5" fill="#000"/><circle cx="1321.00" cy="640.40" r="34.4" fill="#000"/><circle cx="1321.00" cy="640.40" r="32.7" fill="#fff"/><path d="M1319.15 614.40L1319.15 607.10M1322.85 614.40L1322.85 607.10M1329.24 615.67L1332.03 608.93M1332.66 617.09L1335.45 610.34M1338.08 620.71L1343.24 615.55M1340.69 623.32L1345.85 618.16M1344.31 628.74L1351.06 625.95M1345.73 632.16L1352.47 629.37M1347.00 638.55L1354.30 638.55M1347.00 642.25L1354.30 642.25M1345.73 648.64L1352.47 651.43M1344.31 652.06L1351.06 654.85M1340.69 657.48L1345.85 662.64M1338.08 660.09L1343.24 665.25M1332.66 663.71L1335.45 670.46M1329.24 665.13L1332.03 671.87M1322.85 666.40L1322.85 673.70M1319.15 666.40L1319.15 673.70M1312.76 665.13L1309.97 671.87M1309.34 663.71L1306.55 670.46M1303.92 660.09L1298.76 665.25M1301.31 657.48L1296.15 662.64M1297.69 652.06L1290.94 654.85M1296.27 648.64L1289.53 651.43M1295.00 642.25L1287.70 642.25M1295.00 638.55L1287.70 638.55M1296.27 632.16L1289.53 629.37M1297.69 628.74L1290.94 625.95M1301.31 623.32L1296.15 618.16M1303.92 620.71L1298.76 615.55M1309.34 617.09L1306.55 610.34M1312.76 615.67L1309.97 608.93" stroke="#000" stroke-width="1.7"/><circle cx="1321.00" cy="640.40" r="26.1" fill="#fff" stroke="#000" stroke-width="1.7"/><circle cx="1321.00" cy="640.40" r="18.6" fill="#fff" stroke="#000" stroke-width="1.7"/><circle cx="1321.00" cy="640.40" r="10.4" fill="#000"/>
<rect x="1393.20" y="595.90" width="17" height="89" rx="8.5" fill="#000"/><circle cx="1401.70" cy="640.40" r="34.4" fill="#000"/><circle cx="1401.70" cy="640.40" r="32.7" fill="#FF3B2B"/><path d="M1399.85 614.40L1399.85 607.10M1403.55 614.40L1403.55 607.10M1409.94 615.67L1412.73 608.93M1413.36 617.09L1416.15 610.34M1418.78 620.71L1423.94 615.55M1421.39 623.32L1426.55 618.16M1425.01 628.74L1431.76 625.95M1426.43 632.16L1433.17 629.37M1427.70 638.55L1435.00 638.55M1427.70 642.25L1435.00 642.25M1426.43 648.64L1433.17 651.43M1425.01 652.06L1431.76 654.85M1421.39 657.48L1426.55 662.64M1418.78 660.09L1423.94 665.25M1413.36 663.71L1416.15 670.46M1409.94 665.13L1412.73 671.87M1403.55 666.40L1403.55 673.70M1399.85 666.40L1399.85 673.70M1393.46 665.13L1390.67 671.87M1390.04 663.71L1387.25 670.46M1384.62 660.09L1379.46 665.25M1382.01 657.48L1376.85 662.64M1378.39 652.06L1371.64 654.85M1376.97 648.64L1370.23 651.43M1375.70 642.25L1368.40 642.25M1375.70 638.55L1368.40 638.55M1376.97 632.16L1370.23 629.37M1378.39 628.74L1371.64 625.95M1382.01 623.32L1376.85 618.16M1384.62 620.71L1379.46 615.55M1390.04 617.09L1387.25 610.34M1393.46 615.67L1390.67 608.93" stroke="#000" stroke-width="1.7"/><circle cx="1401.70" cy="640.40" r="26.1" fill="#FF3B2B" stroke="#000" stroke-width="1.7"/><circle cx="1401.70" cy="640.40" r="18.6" fill="#fff" stroke="#000" stroke-width="1.7"/><circle cx="1401.70" cy="640.40" r="10.4" fill="#000"/>
<rect x="1473.90" y="595.90" width="17" height="89" rx="8.5" fill="#000"/><circle cx="1482.40" cy="640.40" r="34.4" fill="#000"/><circle cx="1482.40" cy="640.40" r="32.7" fill="#fff"/><path d="M1480.55 614.40L1480.55 607.10M1484.25 614.40L1484.25 607.10M1490.64 615.67L1493.43 608.93M1494.06 617.09L1496.85 610.34M1499.48 620.71L1504.64 615.55M1502.09 623.32L1507.25 618.16M1505.71 628.74L1512.46 625.95M1507.13 632.16L1513.87 629.37M1508.40 638.55L1515.70 638.55M1508.40 642.25L1515.70 642.25M1507.13 648.64L1513.87 651.43M1505.71 652.06L1512.46 654.85M1502.09 657.48L1507.25 662.64M1499.48 660.09L1504.64 665.25M1494.06 663.71L1496.85 670.46M1490.64 665.13L1493.43 671.87M1484.25 666.40L1484.25 673.70M1480.55 666.40L1480.55 673.70M1474.16 665.13L1471.37 671.87M1470.74 663.71L1467.95 670.46M1465.32 660.09L1460.16 665.25M1462.71 657.48L1457.55 662.64M1459.09 652.06L1452.34 654.85M1457.67 648.64L1450.93 651.43M1456.40 642.25L1449.10 642.25M1456.40 638.55L1449.10 638.55M1457.67 632.16L1450.93 629.37M1459.09 628.74L1452.34 625.95M1462.71 623.32L1457.55 618.16M1465.32 620.71L1460.16 615.55M1470.74 617.09L1467.95 610.34M1474.16 615.67L1471.37 608.93" stroke="#000" stroke-width="1.7"/><circle cx="1482.40" cy="640.40" r="26.1" fill="#fff" stroke="#000" stroke-width="1.7"/><circle cx="1482.40" cy="640.40" r="18.6" fill="#fff" stroke="#000" stroke-width="1.7"/><circle cx="1482.40" cy="640.40" r="10.4" fill="#000"/>
<rect x="1554.60" y="595.90" width="17" height="89" rx="8.5" fill="#000"/><circle cx="1563.10" cy="640.40" r="34.4" fill="#000"/><circle cx="1563.10" cy="640.40" r="32.7" fill="#FF3B2B"/><path d="M1561.25 614.40L1561.25 607.10M1564.95 614.40L1564.95 607.10M1571.34 615.67L1574.13 608.93M1574.76 617.09L1577.55 610.34M1580.18 620.71L1585.34 615.55M1582.79 623.32L1587.95 618.16M1586.41 628.74L1593.16 625.95M1587.83 632.16L1594.57 629.37M1589.10 638.55L1596.40 638.55M1589.10 642.25L1596.40 642.25M1587.83 648.64L1594.57 651.43M1586.41 652.06L1593.16 654.85M1582.79 657.48L1587.95 662.64M1580.18 660.09L1585.34 665.25M1574.76 663.71L1577.55 670.46M1571.34 665.13L1574.13 671.87M1564.95 666.40L1564.95 673.70M1561.25 666.40L1561.25 673.70M1554.86 665.13L1552.07 671.87M1551.44 663.71L1548.65 670.46M1546.02 660.09L1540.86 665.25M1543.41 657.48L1538.25 662.64M1539.79 652.06L1533.04 654.85M1538.37 648.64L1531.63 651.43M1537.10 642.25L1529.80 642.25M1537.10 638.55L1529.80 638.55M1538.37 632.16L1531.63 629.37M1539.79 628.74L1533.04 625.95M1543.41 623.32L1538.25 618.16M1546.02 620.71L1540.86 615.55M1551.44 617.09L1548.65 610.34M1554.86 615.67L1552.07 608.93" stroke="#000" stroke-width="1.7"/><circle cx="1563.10" cy="640.40" r="26.1" fill="#FF3B2B" stroke="#000" stroke-width="1.7"/><circle cx="1563.10" cy="640.40" r="18.6" fill="#fff" stroke="#000" stroke-width="1.7"/><circle cx="1563.10" cy="640.40" r="10.4" fill="#000"/>
<rect x="1635.30" y="595.90" width="17" height="89" rx="8.5" fill="#000"/><circle cx="1643.80" cy="640.40" r="34.4" fill="#000"/><circle cx="1643.80" cy="640.40" r="32.7" fill="#fff"/><path d="M1641.95 614.40L1641.95 607.10M1645.65 614.40L1645.65 607.10M1652.04 615.67L1654.83 608.93M1655.46 617.09L1658.25 610.34M1660.88 620.71L1666.04 615.55M1663.49 623.32L1668.65 618.16M1667.11 628.74L1673.86 625.95M1668.53 632.16L1675.27 629.37M1669.80 638.55L1677.10 638.55M1669.80 642.25L1677.10 642.25M1668.53 648.64L1675.27 651.43M1667.11 652.06L1673.86 654.85M1663.49 657.48L1668.65 662.64M1660.88 660.09L1666.04 665.25M1655.46 663.71L1658.25 670.46M1652.04 665.13L1654.83 671.87M1645.65 666.40L1645.65 673.70M1641.95 666.40L1641.95 673.70M1635.56 665.13L1632.77 671.87M1632.14 663.71L1629.35 670.46M1626.72 660.09L1621.56 665.25M1624.11 657.48L1618.95 662.64M1620.49 652.06L1613.74 654.85M1619.07 648.64L1612.33 651.43M1617.80 642.25L1610.50 642.25M1617.80 638.55L1610.50 638.55M1619.07 632.16L1612.33 629.37M1620.49 628.74L1613.74 625.95M1624.11 623.32L1618.95 618.16M1626.72 620.71L1621.56 615.55M1632.14 617.09L1629.35 610.34M1635.56 615.67L1632.77 608.93" stroke="#000" stroke-width="1.7"/><circle cx="1643.80" cy="640.40" r="26.1" fill="#fff" stroke="#000" stroke-width="1.7"/><circle cx="1643.80" cy="640.40" r="18.6" fill="#fff" stroke="#000" stroke-width="1.7"/><circle cx="1643.80" cy="640.40" r="10.4" fill="#000"/>
<rect x="1716.00" y="595.90" width="17" height="89" rx="8.5" fill="#BFBFBF"/><circle cx="1724.50" cy="640.40" r="34.4" fill="#BFBFBF"/><circle cx="1724.50" cy="640.40" r="32.7" fill="#FBA28C"/><path d="M1722.65 614.40L1722.65 607.10M1726.35 614.40L1726.35 607.10M1732.74 615.67L1735.53 608.93M1736.16 617.09L1738.95 610.34M1741.58 620.71L1746.74 615.55M1744.19 623.32L1749.35 618.16M1747.81 628.74L1754.56 625.95M1749.23 632.16L1755.97 629.37M1750.50 638.55L1757.80 638.55M1750.50 642.25L1757.80 642.25M1749.23 648.64L1755.97 651.43M1747.81 652.06L1754.56 654.85M1744.19 657.48L1749.35 662.64M1741.58 660.09L1746.74 665.25M1736.16 663.71L1738.95 670.46M1732.74 665.13L1735.53 671.87M1726.35 666.40L1726.35 673.70M1722.65 666.40L1722.65 673.70M1716.26 665.13L1713.47 671.87M1712.84 663.71L1710.05 670.46M1707.42 660.09L1702.26 665.25M1704.81 657.48L1699.65 662.64M1701.19 652.06L1694.44 654.85M1699.77 648.64L1693.03 651.43M1698.50 642.25L1691.20 642.25M1698.50 638.55L1691.20 638.55M1699.77 632.16L1693.03 629.37M1701.19 628.74L1694.44 625.95M1704.81 623.32L1699.65 618.16M1707.42 620.71L1702.26 615.55M1712.84 617.09L1710.05 610.34M1716.26 615.67L1713.47 608.93" stroke="#BFBFBF" stroke-width="1.7"/><circle cx="1724.50" cy="640.40" r="26.1" fill="#FBA28C" stroke="#BFBFBF" stroke-width="1.7"/><circle cx="1724.50" cy="640.40" r="18.6" fill="#fff" stroke="#BFBFBF" stroke-width="1.7"/><circle cx="1724.50" cy="640.40" r="10.4" fill="#BFBFBF"/>
<rect x="1796.70" y="595.90" width="17" height="89" rx="8.5" fill="#BFBFBF"/><circle cx="1805.20" cy="640.40" r="34.4" fill="#BFBFBF"/><circle cx="1805.20" cy="640.40" r="32.7" fill="#fff"/><path d="M1803.35 614.40L1803.35 607.10M1807.05 614.40L1807.05 607.10M1813.44 615.67L1816.23 608.93M1816.86 617.09L1819.65 610.34M1822.28 620.71L1827.44 615.55M1824.89 623.32L1830.05 618.16M1828.51 628.74L1835.26 625.95M1829.93 632.16L1836.67 629.37M1831.20 638.55L1838.50 638.55M1831.20 642.25L1838.50 642.25M1829.93 648.64L1836.67 651.43M1828.51 652.06L1835.26 654.85M1824.89 657.48L1830.05 662.64M1822.28 660.09L1827.44 665.25M1816.86 663.71L1819.65 670.46M1813.44 665.13L1816.23 671.87M1807.05 666.40L1807.05 673.70M1803.35 666.40L1803.35 673.70M1796.96 665.13L1794.17 671.87M1793.54 663.71L1790.75 670.46M1788.12 660.09L1782.96 665.25M1785.51 657.48L1780.35 662.64M1781.89 652.06L1775.14 654.85M1780.47 648.64L1773.73 651.43M1779.20 642.25L1771.90 642.25M1779.20 638.55L1771.90 638.55M1780.47 632.16L1773.73 629.37M1781.89 628.74L1775.14 625.95M1785.51 623.32L1780.35 618.16M1788.12 620.71L1782.96 615.55M1793.54 617.09L1790.75 610.34M1796.96 615.67L1794.17 608.93" stroke="#BFBFBF" stroke-width="1.7"/><circle cx="1805.20" cy="640.40" r="26.1" fill="#fff" stroke="#BFBFBF" stroke-width="1.7"/><circle cx="1805.20" cy="640.40" r="18.6" fill="#fff" stroke="#BFBFBF" stroke-width="1.7"/><circle cx="1805.20" cy="640.40" r="10.4" fill="#BFBFBF"/>
<rect x="1877.40" y="595.90" width="17" height="89" rx="8.5" fill="#BFBFBF"/><circle cx="1885.90" cy="640.40" r="34.4" fill="#BFBFBF"/><circle cx="1885.90" cy="640.40" r="32.7" fill="#FBA28C"/><path d="M1884.05 614.40L1884.05 607.10M1887.75 614.40L1887.75 607.10M1894.14 615.67L1896.93 608.93M1897.56 617.09L1900.35 610.34M1902.98 620.71L1908.14 615.55M1905.59 623.32L1910.75 618.16M1909.21 628.74L1915.96 625.95M1910.63 632.16L1917.37 629.37M1911.90 638.55L1919.20 638.55M1911.90 642.25L1919.20 642.25M1910.63 648.64L1917.37 651.43M1909.21 652.06L1915.96 654.85M1905.59 657.48L1910.75 662.64M1902.98 660.09L1908.14 665.25M1897.56 663.71L1900.35 670.46M1894.14 665.13L1896.93 671.87M1887.75 666.40L1887.75 673.70M1884.05 666.40L1884.05 673.70M1877.66 665.13L1874.87 671.87M1874.24 663.71L1871.45 670.46M1868.82 660.09L1863.66 665.25M1866.21 657.48L1861.05 662.64M1862.59 652.06L1855.84 654.85M1861.17 648.64L1854.43 651.43M1859.90 642.25L1852.60 642.25M1859.90 638.55L1852.60 638.55M1861.17 632.16L1854.43 629.37M1862.59 628.74L1855.84 625.95M1866.21 623.32L1861.05 618.16M1868.82 620.71L1863.66 615.55M1874.24 617.09L1871.45 610.34M1877.66 615.67L1874.87 608.93" stroke="#BFBFBF" stroke-width="1.7"/><circle cx="1885.90" cy="640.40" r="26.1" fill="#FBA28C" stroke="#BFBFBF" stroke-width="1.7"/><circle cx="1885.90" cy="640.40" r="18.6" fill="#fff" stroke="#BFBFBF" stroke-width="1.7"/><circle cx="1885.90" cy="640.40" r="10.4" fill="#BFBFBF"/>
<rect x="1958.10" y="595.90" width="17" height="89" rx="8.5" fill="#BFBFBF"/><circle cx="1966.60" cy="640.40" r="34.4" fill="#BFBFBF"/><circle cx="1966.60" cy="640.40" r="32.7" fill="#fff"/><path d="M1964.75 614.40L1964.75 607.10M1968.45 614.40L1968.45 607.10M1974.84 615.67L1977.63 608.93M1978.26 617.09L1981.05 610.34M1983.68 620.71L1988.84 615.55M1986.29 623.32L1991.45 618.16M1989.91 628.74L1996.66 625.95M1991.33 632.16L1998.07 629.37M1992.60 638.55L1999.90 638.55M1992.60 642.25L1999.90 642.25M1991.33 648.64L1998.07 651.43M1989.91 652.06L1996.66 654.85M1986.29 657.48L1991.45 662.64M1983.68 660.09L1988.84 665.25M1978.26 663.71L1981.05 670.46M1974.84 665.13L1977.63 671.87M1968.45 666.40L1968.45 673.70M1964.75 666.40L1964.75 673.70M1958.36 665.13L1955.57 671.87M1954.94 663.71L1952.15 670.46M1949.52 660.09L1944.36 665.25M1946.91 657.48L1941.75 662.64M1943.29 652.06L1936.54 654.85M1941.87 648.64L1935.13 651.43M1940.60 642.25L1933.30 642.25M1940.60 638.55L1933.30 638.55M1941.87 632.16L1935.13 629.37M1943.29 628.74L1936.54 625.95M1946.91 623.32L1941.75 618.16M1949.52 620.71L1944.36 615.55M1954.94 617.09L1952.15 610.34M1958.36 615.67L1955.57 608.93" stroke="#BFBFBF" stroke-width="1.7"/><circle cx="1966.60" cy="640.40" r="26.1" fill="#fff" stroke="#BFBFBF" stroke-width="1.7"/><circle cx="1966.60" cy="640.40" r="18.6" fill="#fff" stroke="#BFBFBF" stroke-width="1.7"/><circle cx="1966.60" cy="640.40" r="10.4" fill="#BFBFBF"/>
<circle cx="1725.40" cy="438.30" r="8.7" fill="#000"/><path d="M1719.10 438.30H1731.70M1725.40 432.00V444.60" stroke="#fff" stroke-width="3"/>
<circle cx="1806.10" cy="438.30" r="8.7" fill="#000"/><path d="M1799.10 438.30H1813.10" stroke="#fff" stroke-width="3.4"/>
<circle cx="1886.80" cy="438.30" r="8.7" fill="#000"/><path d="M1880.50 438.30H1893.10M1886.80 432.00V444.60" stroke="#fff" stroke-width="3"/>
<circle cx="1967.50" cy="438.30" r="8.7" fill="#000"/><path d="M1960.50 438.30H1974.50" stroke="#fff" stroke-width="3.4"/>
<path d="M1725.40 496.00A39.40 41.5 0 0 1 1764.80 454.50" fill="none" stroke="#000" stroke-width="8.6"/><path d="M1725.40 496.00A39.40 41.5 0 0 1 1764.80 454.50" fill="none" stroke="#fff" stroke-width="5.0"/><path d="M1764.80 454.50A41.30 41.5 0 0 1 1806.10 496.00" fill="none" stroke="#000" stroke-width="8.6"/>
<path d="M1886.80 496.00A39.80 41.5 0 0 1 1926.60 454.50" fill="none" stroke="#000" stroke-width="8.6"/><path d="M1886.80 496.00A39.80 41.5 0 0 1 1926.60 454.50" fill="none" stroke="#fff" stroke-width="5.0"/><path d="M1926.60 454.50A40.90 41.5 0 0 1 1967.50 496.00" fill="none" stroke="#000" stroke-width="8.6"/>
<rect x="1716.90" y="449.10" width="17" height="89" rx="8.5" fill="#000"/><circle cx="1725.40" cy="493.60" r="34.4" fill="#000"/><circle cx="1725.40" cy="493.60" r="32.7" fill="#FF3B2B"/><path d="M1723.55 467.60L1723.55 460.30M1727.25 467.60L1727.25 460.30M1733.64 468.87L1736.43 462.13M1737.06 470.29L1739.85 463.54M1742.48 473.91L1747.64 468.75M1745.09 476.52L1750.25 471.36M1748.71 481.94L1755.46 479.15M1750.13 485.36L1756.87 482.57M1751.40 491.75L1758.70 491.75M1751.40 495.45L1758.70 495.45M1750.13 501.84L1756.87 504.63M1748.71 505.26L1755.46 508.05M1745.09 510.68L1750.25 515.84M1742.48 513.29L1747.64 518.45M1737.06 516.91L1739.85 523.66M1733.64 518.33L1736.43 525.07M1727.25 519.60L1727.25 526.90M1723.55 519.60L1723.55 526.90M1717.16 518.33L1714.37 525.07M1713.74 516.91L1710.95 523.66M1708.32 513.29L1703.16 518.45M1705.71 510.68L1700.55 515.84M1702.09 505.26L1695.34 508.05M1700.67 501.84L1693.93 504.63M1699.40 495.45L1692.10 495.45M1699.40 491.75L1692.10 491.75M1700.67 485.36L1693.93 482.57M1702.09 481.94L1695.34 479.15M1705.71 476.52L1700.55 471.36M1708.32 473.91L1703.16 468.75M1713.74 470.29L1710.95 463.54M1717.16 468.87L1714.37 462.13" stroke="#000" stroke-width="1.7"/><circle cx="1725.40" cy="493.60" r="26.1" fill="#FF3B2B" stroke="#000" stroke-width="1.7"/><circle cx="1725.40" cy="493.60" r="18.6" fill="#fff" stroke="#000" stroke-width="1.7"/><circle cx="1725.40" cy="493.60" r="10.4" fill="#000"/>
<rect x="1797.60" y="449.10" width="17" height="89" rx="8.5" fill="#000"/><circle cx="1806.10" cy="493.60" r="34.4" fill="#000"/><circle cx="1806.10" cy="493.60" r="32.7" fill="#fff"/><path d="M1804.25 467.60L1804.25 460.30M1807.95 467.60L1807.95 460.30M1814.34 468.87L1817.13 462.13M1817.76 470.29L1820.55 463.54M1823.18 473.91L1828.34 468.75M1825.79 476.52L1830.95 471.36M1829.41 481.94L1836.16 479.15M1830.83 485.36L1837.57 482.57M1832.10 491.75L1839.40 491.75M1832.10 495.45L1839.40 495.45M1830.83 501.84L1837.57 504.63M1829.41 505.26L1836.16 508.05M1825.79 510.68L1830.95 515.84M1823.18 513.29L1828.34 518.45M1817.76 516.91L1820.55 523.66M1814.34 518.33L1817.13 525.07M1807.95 519.60L1807.95 526.90M1804.25 519.60L1804.25 526.90M1797.86 518.33L1795.07 525.07M1794.44 516.91L1791.65 523.66M1789.02 513.29L1783.86 518.45M1786.41 510.68L1781.25 515.84M1782.79 505.26L1776.04 508.05M1781.37 501.84L1774.63 504.63M1780.10 495.45L1772.80 495.45M1780.10 491.75L1772.80 491.75M1781.37 485.36L1774.63 482.57M1782.79 481.94L1776.04 479.15M1786.41 476.52L1781.25 471.36M1789.02 473.91L1783.86 468.75M1794.44 470.29L1791.65 463.54M1797.86 468.87L1795.07 462.13" stroke="#000" stroke-width="1.7"/><circle cx="1806.10" cy="493.60" r="26.1" fill="#fff" stroke="#000" stroke-width="1.7"/><circle cx="1806.10" cy="493.60" r="18.6" fill="#fff" stroke="#000" stroke-width="1.7"/><circle cx="1806.10" cy="493.60" r="10.4" fill="#000"/>
<rect x="1878.30" y="449.10" width="17" height="89" rx="8.5" fill="#000"/><circle cx="1886.80" cy="493.60" r="34.4" fill="#000"/><circle cx="1886.80" cy="493.60" r="32.7" fill="#FF3B2B"/><path d="M1884.95 467.60L1884.95 460.30M1888.65 467.60L1888.65 460.30M1895.04 468.87L1897.83 462.13M1898.46 470.29L1901.25 463.54M1903.88 473.91L1909.04 468.75M1906.49 476.52L1911.65 471.36M1910.11 481.94L1916.86 479.15M1911.53 485.36L1918.27 482.57M1912.80 491.75L1920.10 491.75M1912.80 495.45L1920.10 495.45M1911.53 501.84L1918.27 504.63M1910.11 505.26L1916.86 508.05M1906.49 510.68L1911.65 515.84M1903.88 513.29L1909.04 518.45M1898.46 516.91L1901.25 523.66M1895.04 518.33L1897.83 525.07M1888.65 519.60L1888.65 526.90M1884.95 519.60L1884.95 526.90M1878.56 518.33L1875.77 525.07M1875.14 516.91L1872.35 523.66M1869.72 513.29L1864.56 518.45M1867.11 510.68L1861.95 515.84M1863.49 505.26L1856.74 508.05M1862.07 501.84L1855.33 504.63M1860.80 495.45L1853.50 495.45M1860.80 491.75L1853.50 491.75M1862.07 485.36L1855.33 482.57M1863.49 481.94L1856.74 479.15M1867.11 476.52L1861.95 471.36M1869.72 473.91L1864.56 468.75M1875.14 470.29L1872.35 463.54M1878.56 468.87L1875.77 462.13" stroke="#000" stroke-width="1.7"/><circle cx="1886.80" cy="493.60" r="26.1" fill="#FF3B2B" stroke="#000" stroke-width="1.7"/><circle cx="1886.80" cy="493.60" r="18.6" fill="#fff" stroke="#000" stroke-width="1.7"/><circle cx="1886.80" cy="493.60" r="10.4" fill="#000"/>
<rect x="1959.00" y="449.10" width="17" height="89" rx="8.5" fill="#000"/><circle cx="1967.50" cy="493.60" r="34.4" fill="#000"/><circle cx="1967.50" cy="493.60" r="32.7" fill="#fff"/><path d="M1965.65 467.60L1965.65 460.30M1969.35 467.60L1969.35 460.30M1975.74 468.87L1978.53 462.13M1979.16 470.29L1981.95 463.54M1984.58 473.91L1989.74 468.75M1987.19 476.52L1992.35 471.36M1990.81 481.94L1997.56 479.15M1992.23 485.36L1998.97 482.57M1993.50 491.75L2000.80 491.75M1993.50 495.45L2000.80 495.45M1992.23 501.84L1998.97 504.63M1990.81 505.26L1997.56 508.05M1987.19 510.68L1992.35 515.84M1984.58 513.29L1989.74 518.45M1979.16 516.91L1981.95 523.66M1975.74 518.33L1978.53 525.07M1969.35 519.60L1969.35 526.90M1965.65 519.60L1965.65 526.90M1959.26 518.33L1956.47 525.07M1955.84 516.91L1953.05 523.66M1950.42 513.29L1945.26 518.45M1947.81 510.68L1942.65 515.84M1944.19 505.26L1937.44 508.05M1942.77 501.84L1936.03 504.63M1941.50 495.45L1934.20 495.45M1941.50 491.75L1934.20 491.75M1942.77 485.36L1936.03 482.57M1944.19 481.94L1937.44 479.15M1947.81 476.52L1942.65 471.36M1950.42 473.91L1945.26 468.75M1955.84 470.29L1953.05 463.54M1959.26 468.87L1956.47 462.13" stroke="#000" stroke-width="1.7"/><circle cx="1967.50" cy="493.60" r="26.1" fill="#fff" stroke="#000" stroke-width="1.7"/><circle cx="1967.50" cy="493.60" r="18.6" fill="#fff" stroke="#000" stroke-width="1.7"/><circle cx="1967.50" cy="493.60" r="10.4" fill="#000"/>
<text x="1162.32" y="702.10" font-size="11.92" font-weight="bold" textLength="74.43" lengthAdjust="spacingAndGlyphs" fill="#000">ASSIGNABLE</text>
<text x="1485.52" y="702.10" font-size="11.92" font-weight="bold" textLength="74.12" lengthAdjust="spacingAndGlyphs" fill="#000">ASSIGNABLE</text>
<text x="1808.82" y="702.10" font-size="11.92" font-weight="bold" textLength="74.12" lengthAdjust="spacingAndGlyphs" fill="#C0C0C0">ASSIGNABLE</text>
<text x="1809.32" y="546.00" font-size="11.92" font-weight="bold" textLength="74.12" lengthAdjust="spacingAndGlyphs" fill="#000">ASSIGNABLE</text>
<path d="M231.95 705.1H2005.75V716.7A10 10 0 0 1 1995.75 726.7H241.95A10 10 0 0 1 231.95 716.7Z" fill="#000"/>
<rect x="299.70" y="703" width="25.4" height="26" fill="#fff"/>
<rect x="461.43" y="703" width="25.4" height="26" fill="#fff"/>
<rect x="623.16" y="703" width="25.4" height="26" fill="#fff"/>
<rect x="784.89" y="703" width="25.4" height="26" fill="#fff"/>
<rect x="946.62" y="703" width="25.4" height="26" fill="#fff"/>
<rect x="1108.35" y="703" width="25.4" height="26" fill="#fff"/>
<rect x="1270.08" y="703" width="25.4" height="26" fill="#fff"/>
<rect x="1431.81" y="703" width="25.4" height="26" fill="#fff"/>
<rect x="1593.54" y="703" width="25.4" height="26" fill="#fff"/>
<text x="989.92" y="722.20" font-size="18.46" font-weight="bold" textLength="91.83" lengthAdjust="spacingAndGlyphs" fill="#fff">SPEAKERS</text>
<rect x="306.10" y="683.5" width="12.6" height="172" fill="#000"/>
<rect x="467.83" y="683.5" width="12.6" height="172" fill="#000"/>
<rect x="629.56" y="683.5" width="12.6" height="172" fill="#000"/>
<rect x="791.29" y="683.5" width="12.6" height="172" fill="#000"/>
<rect x="953.02" y="683.5" width="12.6" height="172" fill="#000"/>
<rect x="1114.75" y="683.5" width="12.6" height="172" fill="#000"/>
<rect x="1276.48" y="683.5" width="12.6" height="172" fill="#000"/>
<rect x="1438.21" y="683.5" width="12.6" height="172" fill="#000"/>
<rect x="1599.94" y="683.5" width="12.6" height="172" fill="#000"/>
<rect x="1751.70" y="398" width="25.2" height="28.2" fill="#fff"/>
<rect x="1758.10" y="345" width="12.4" height="108.5" fill="#000"/>
<rect x="1914.10" y="398" width="25.2" height="28.2" fill="#fff"/>
<rect x="1920.50" y="345" width="12.4" height="108.5" fill="#000"/>
<rect x="252.80" y="854.80" width="119.2" height="191.6" fill="#fff" stroke="#000" stroke-width="4.8"/><circle cx="312.40" cy="900.10" r="20.9" fill="none" stroke="#000" stroke-width="2.2"/><circle cx="312.40" cy="900.10" r="10.6" fill="none" stroke="#000" stroke-width="2.2"/><path d="M291.16 951.54Q295.40 947.30 301.40 947.30L323.40 947.30Q329.40 947.30 333.64 951.54L347.86 965.76Q352.10 970.00 352.10 976.00L352.10 998.00Q352.10 1004.00 347.86 1008.24L333.64 1022.46Q329.40 1026.70 323.40 1026.70L301.40 1026.70Q295.40 1026.70 291.16 1022.46L276.94 1008.24Q272.70 1004.00 272.70 998.00L272.70 976.00Q272.70 970.00 276.94 965.76Z" fill="none" stroke="#000" stroke-width="2.2"/><circle cx="312.40" cy="987.00" r="33.8" fill="none" stroke="#000" stroke-width="2.2"/><circle cx="312.40" cy="987.00" r="11.3" fill="none" stroke="#000" stroke-width="2.2"/>
<rect x="414.53" y="854.80" width="119.2" height="191.6" fill="#fff" stroke="#000" stroke-width="4.8"/><circle cx="474.13" cy="900.10" r="20.9" fill="none" stroke="#000" stroke-width="2.2"/><circle cx="474.13" cy="900.10" r="10.6" fill="none" stroke="#000" stroke-width="2.2"/><path d="M452.89 951.54Q457.13 947.30 463.13 947.30L485.13 947.30Q491.13 947.30 495.37 951.54L509.59 965.76Q513.83 970.00 513.83 976.00L513.83 998.00Q513.83 1004.00 509.59 1008.24L495.37 1022.46Q491.13 1026.70 485.13 1026.70L463.13 1026.70Q457.13 1026.70 452.89 1022.46L438.67 1008.24Q434.43 1004.00 434.43 998.00L434.43 976.00Q434.43 970.00 438.67 965.76Z" fill="none" stroke="#000" stroke-width="2.2"/><circle cx="474.13" cy="987.00" r="33.8" fill="none" stroke="#000" stroke-width="2.2"/><circle cx="474.13" cy="987.00" r="11.3" fill="none" stroke="#000" stroke-width="2.2"/>
<rect x="576.26" y="854.80" width="119.2" height="191.6" fill="#fff" stroke="#000" stroke-width="4.8"/><circle cx="635.86" cy="900.10" r="20.9" fill="none" stroke="#000" stroke-width="2.2"/><circle cx="635.86" cy="900.10" r="10.6" fill="none" stroke="#000" stroke-width="2.2"/><path d="M614.62 951.54Q618.86 947.30 624.86 947.30L646.86 947.30Q652.86 947.30 657.10 951.54L671.32 965.76Q675.56 970.00 675.56 976.00L675.56 998.00Q675.56 1004.00 671.32 1008.24L657.10 1022.46Q652.86 1026.70 646.86 1026.70L624.86 1026.70Q618.86 1026.70 614.62 1022.46L600.40 1008.24Q596.16 1004.00 596.16 998.00L596.16 976.00Q596.16 970.00 600.40 965.76Z" fill="none" stroke="#000" stroke-width="2.2"/><circle cx="635.86" cy="987.00" r="33.8" fill="none" stroke="#000" stroke-width="2.2"/><circle cx="635.86" cy="987.00" r="11.3" fill="none" stroke="#000" stroke-width="2.2"/>
<rect x="737.99" y="854.80" width="119.2" height="191.6" fill="#fff" stroke="#000" stroke-width="4.8"/><circle cx="797.59" cy="900.10" r="20.9" fill="none" stroke="#000" stroke-width="2.2"/><circle cx="797.59" cy="900.10" r="10.6" fill="none" stroke="#000" stroke-width="2.2"/><path d="M776.35 951.54Q780.59 947.30 786.59 947.30L808.59 947.30Q814.59 947.30 818.83 951.54L833.05 965.76Q837.29 970.00 837.29 976.00L837.29 998.00Q837.29 1004.00 833.05 1008.24L818.83 1022.46Q814.59 1026.70 808.59 1026.70L786.59 1026.70Q780.59 1026.70 776.35 1022.46L762.13 1008.24Q757.89 1004.00 757.89 998.00L757.89 976.00Q757.89 970.00 762.13 965.76Z" fill="none" stroke="#000" stroke-width="2.2"/><circle cx="797.59" cy="987.00" r="33.8" fill="none" stroke="#000" stroke-width="2.2"/><circle cx="797.59" cy="987.00" r="11.3" fill="none" stroke="#000" stroke-width="2.2"/>
<rect x="899.72" y="854.80" width="119.2" height="191.6" fill="#fff" stroke="#000" stroke-width="4.8"/><circle cx="959.32" cy="900.10" r="20.9" fill="none" stroke="#000" stroke-width="2.2"/><circle cx="959.32" cy="900.10" r="10.6" fill="none" stroke="#000" stroke-width="2.2"/><path d="M938.08 951.54Q942.32 947.30 948.32 947.30L970.32 947.30Q976.32 947.30 980.56 951.54L994.78 965.76Q999.02 970.00 999.02 976.00L999.02 998.00Q999.02 1004.00 994.78 1008.24L980.56 1022.46Q976.32 1026.70 970.32 1026.70L948.32 1026.70Q942.32 1026.70 938.08 1022.46L923.86 1008.24Q919.62 1004.00 919.62 998.00L919.62 976.00Q919.62 970.00 923.86 965.76Z" fill="none" stroke="#000" stroke-width="2.2"/><circle cx="959.32" cy="987.00" r="33.8" fill="none" stroke="#000" stroke-width="2.2"/><circle cx="959.32" cy="987.00" r="11.3" fill="none" stroke="#000" stroke-width="2.2"/>
<rect x="1061.45" y="854.80" width="119.2" height="191.6" fill="#fff" stroke="#000" stroke-width="4.8"/><circle cx="1121.05" cy="900.10" r="20.9" fill="none" stroke="#000" stroke-width="2.2"/><circle cx="1121.05" cy="900.10" r="10.6" fill="none" stroke="#000" stroke-width="2.2"/><path d="M1099.81 951.54Q1104.05 947.30 1110.05 947.30L1132.05 947.30Q1138.05 947.30 1142.29 951.54L1156.51 965.76Q1160.75 970.00 1160.75 976.00L1160.75 998.00Q1160.75 1004.00 1156.51 1008.24L1142.29 1022.46Q1138.05 1026.70 1132.05 1026.70L1110.05 1026.70Q1104.05 1026.70 1099.81 1022.46L1085.59 1008.24Q1081.35 1004.00 1081.35 998.00L1081.35 976.00Q1081.35 970.00 1085.59 965.76Z" fill="none" stroke="#000" stroke-width="2.2"/><circle cx="1121.05" cy="987.00" r="33.8" fill="none" stroke="#000" stroke-width="2.2"/><circle cx="1121.05" cy="987.00" r="11.3" fill="none" stroke="#000" stroke-width="2.2"/>
<rect x="1223.18" y="854.80" width="119.2" height="191.6" fill="#fff" stroke="#000" stroke-width="4.8"/><circle cx="1282.78" cy="900.10" r="20.9" fill="none" stroke="#000" stroke-width="2.2"/><circle cx="1282.78" cy="900.10" r="10.6" fill="none" stroke="#000" stroke-width="2.2"/><path d="M1261.54 951.54Q1265.78 947.30 1271.78 947.30L1293.78 947.30Q1299.78 947.30 1304.02 951.54L1318.24 965.76Q1322.48 970.00 1322.48 976.00L1322.48 998.00Q1322.48 1004.00 1318.24 1008.24L1304.02 1022.46Q1299.78 1026.70 1293.78 1026.70L1271.78 1026.70Q1265.78 1026.70 1261.54 1022.46L1247.32 1008.24Q1243.08 1004.00 1243.08 998.00L1243.08 976.00Q1243.08 970.00 1247.32 965.76Z" fill="none" stroke="#000" stroke-width="2.2"/><circle cx="1282.78" cy="987.00" r="33.8" fill="none" stroke="#000" stroke-width="2.2"/><circle cx="1282.78" cy="987.00" r="11.3" fill="none" stroke="#000" stroke-width="2.2"/>
<rect x="1384.91" y="854.80" width="119.2" height="191.6" fill="#fff" stroke="#000" stroke-width="4.8"/><circle cx="1444.51" cy="900.10" r="20.9" fill="none" stroke="#000" stroke-width="2.2"/><circle cx="1444.51" cy="900.10" r="10.6" fill="none" stroke="#000" stroke-width="2.2"/><path d="M1423.27 951.54Q1427.51 947.30 1433.51 947.30L1455.51 947.30Q1461.51 947.30 1465.75 951.54L1479.97 965.76Q1484.21 970.00 1484.21 976.00L1484.21 998.00Q1484.21 1004.00 1479.97 1008.24L1465.75 1022.46Q1461.51 1026.70 1455.51 1026.70L1433.51 1026.70Q1427.51 1026.70 1423.27 1022.46L1409.05 1008.24Q1404.81 1004.00 1404.81 998.00L1404.81 976.00Q1404.81 970.00 1409.05 965.76Z" fill="none" stroke="#000" stroke-width="2.2"/><circle cx="1444.51" cy="987.00" r="33.8" fill="none" stroke="#000" stroke-width="2.2"/><circle cx="1444.51" cy="987.00" r="11.3" fill="none" stroke="#000" stroke-width="2.2"/>
<rect x="1546.64" y="854.80" width="119.2" height="191.6" fill="#fff" stroke="#000" stroke-width="4.8"/><circle cx="1606.24" cy="900.10" r="20.9" fill="none" stroke="#000" stroke-width="2.2"/><circle cx="1606.24" cy="900.10" r="10.6" fill="none" stroke="#000" stroke-width="2.2"/><path d="M1585.00 951.54Q1589.24 947.30 1595.24 947.30L1617.24 947.30Q1623.24 947.30 1627.48 951.54L1641.70 965.76Q1645.94 970.00 1645.94 976.00L1645.94 998.00Q1645.94 1004.00 1641.70 1008.24L1627.48 1022.46Q1623.24 1026.70 1617.24 1026.70L1595.24 1026.70Q1589.24 1026.70 1585.00 1022.46L1570.78 1008.24Q1566.54 1004.00 1566.54 998.00L1566.54 976.00Q1566.54 970.00 1570.78 965.76Z" fill="none" stroke="#000" stroke-width="2.2"/><circle cx="1606.24" cy="987.00" r="33.8" fill="none" stroke="#000" stroke-width="2.2"/><circle cx="1606.24" cy="987.00" r="11.3" fill="none" stroke="#000" stroke-width="2.2"/>
<rect x="1706.40" y="157.20" width="119.2" height="191.6" fill="#82D1D2" stroke="#000" stroke-width="4.8"/><circle cx="1766.00" cy="202.50" r="20.9" fill="none" stroke="#000" stroke-width="2.2"/><circle cx="1766.00" cy="202.50" r="10.6" fill="none" stroke="#000" stroke-width="2.2"/><path d="M1744.76 253.94Q1749.00 249.70 1755.00 249.70L1777.00 249.70Q1783.00 249.70 1787.24 253.94L1801.46 268.16Q1805.70 272.40 1805.70 278.40L1805.70 300.40Q1805.70 306.40 1801.46 310.64L1787.24 324.86Q1783.00 329.10 1777.00 329.10L1755.00 329.10Q1749.00 329.10 1744.76 324.86L1730.54 310.64Q1726.30 306.40 1726.30 300.40L1726.30 278.40Q1726.30 272.40 1730.54 268.16Z" fill="none" stroke="#000" stroke-width="2.2"/><circle cx="1766.00" cy="289.40" r="33.8" fill="none" stroke="#000" stroke-width="2.2"/><circle cx="1766.00" cy="289.40" r="11.3" fill="none" stroke="#000" stroke-width="2.2"/>
<rect x="1866.80" y="157.20" width="119.2" height="191.6" fill="#82D1D2" stroke="#000" stroke-width="4.8"/><circle cx="1926.40" cy="202.50" r="20.9" fill="none" stroke="#000" stroke-width="2.2"/><circle cx="1926.40" cy="202.50" r="10.6" fill="none" stroke="#000" stroke-width="2.2"/><path d="M1905.16 253.94Q1909.40 249.70 1915.40 249.70L1937.40 249.70Q1943.40 249.70 1947.64 253.94L1961.86 268.16Q1966.10 272.40 1966.10 278.40L1966.10 300.40Q1966.10 306.40 1961.86 310.64L1947.64 324.86Q1943.40 329.10 1937.40 329.10L1915.40 329.10Q1909.40 329.10 1905.16 324.86L1890.94 310.64Q1886.70 306.40 1886.70 300.40L1886.70 278.40Q1886.70 272.40 1890.94 268.16Z" fill="none" stroke="#000" stroke-width="2.2"/><circle cx="1926.40" cy="289.40" r="33.8" fill="none" stroke="#000" stroke-width="2.2"/><circle cx="1926.40" cy="289.40" r="11.3" fill="none" stroke="#000" stroke-width="2.2"/>
<rect x="1618.5" y="3.3" width="206.8" height="130" fill="#82D1D2" stroke="#000" stroke-width="6.6"/>
<rect x="1867.2" y="3.3" width="206.9" height="130" fill="#82D1D2" stroke="#000" stroke-width="6.6"/>
<text x="1628.12" y="65.30" font-size="58.87" font-weight="bold" textLength="188.34" lengthAdjust="spacingAndGlyphs" fill="#000">ZONE2</text>
<text x="1702.63" y="116.10" font-size="58.72" font-weight="bold" textLength="37.43" lengthAdjust="spacingAndGlyphs" fill="#000">R</text>
<text x="1877.13" y="65.30" font-size="58.87" font-weight="bold" textLength="187.43" lengthAdjust="spacingAndGlyphs" fill="#000">ZONE2</text>
<text x="1955.51" y="116.10" font-size="58.72" font-weight="bold" textLength="30.95" lengthAdjust="spacingAndGlyphs" fill="#000">L</text>
<text x="84.83" y="1132.20" font-size="56.98" font-weight="bold" textLength="93.22" lengthAdjust="spacingAndGlyphs" fill="#000">SW</text>
<text x="278.52" y="1132.20" font-size="56.98" font-weight="bold" textLength="67.42" lengthAdjust="spacingAndGlyphs" fill="#000">FR</text>
<text x="443.63" y="1132.20" font-size="56.98" font-weight="bold" textLength="63.37" lengthAdjust="spacingAndGlyphs" fill="#000">FL</text>
<text x="616.32" y="1132.20" font-size="56.98" font-weight="bold" textLength="38.33" lengthAdjust="spacingAndGlyphs" fill="#000">C</text>
<text x="760.48" y="1132.20" font-size="56.98" font-weight="bold" textLength="73.41" lengthAdjust="spacingAndGlyphs" fill="#000">SR</text>
<text x="925.04" y="1132.20" font-size="56.98" font-weight="bold" textLength="69.23" lengthAdjust="spacingAndGlyphs" fill="#000">SL</text>
<text x="1065.48" y="1132.20" font-size="56.98" font-weight="bold" textLength="111.61" lengthAdjust="spacingAndGlyphs" fill="#000">SBR</text>
<text x="1230.67" y="1132.20" font-size="56.98" font-weight="bold" textLength="106.47" lengthAdjust="spacingAndGlyphs" fill="#000">SBL</text>
<text x="1389.36" y="1132.20" font-size="56.98" font-weight="bold" textLength="108.62" lengthAdjust="spacingAndGlyphs" fill="#000">FHR</text>
<text x="1554.01" y="1132.20" font-size="56.98" font-weight="bold" textLength="104.45" lengthAdjust="spacingAndGlyphs" fill="#000">FHL</text>
<path d="M1512.30 1099.90L1510.20 1109.50A2.8 2.8 0 1 0 1515.80 1109.50L1513.70 1099.90Z" fill="#000"/><path d="M1512.65 1100.51L1519.91 1107.12A2.8 2.8 0 1 0 1522.71 1102.28L1513.35 1099.29Z" fill="#000"/><path d="M1512.65 1099.29L1503.29 1102.28A2.8 2.8 0 1 0 1506.09 1107.12L1513.35 1100.51Z" fill="#000"/><path d="M1513.70 1099.90L1515.80 1090.30A2.8 2.8 0 1 0 1510.20 1090.30L1512.30 1099.90Z" fill="#000"/><path d="M1513.35 1099.29L1506.09 1092.68A2.8 2.8 0 1 0 1503.29 1097.52L1512.65 1100.51Z" fill="#000"/><path d="M1513.35 1100.51L1522.71 1097.52A2.8 2.8 0 1 0 1519.91 1092.68L1512.65 1099.29Z" fill="#000"/>
<path d="M1670.90 1099.90L1668.80 1109.50A2.8 2.8 0 1 0 1674.40 1109.50L1672.30 1099.90Z" fill="#000"/><path d="M1671.25 1100.51L1678.51 1107.12A2.8 2.8 0 1 0 1681.31 1102.28L1671.95 1099.29Z" fill="#000"/><path d="M1671.25 1099.29L1661.89 1102.28A2.8 2.8 0 1 0 1664.69 1107.12L1671.95 1100.51Z" fill="#000"/><path d="M1672.30 1099.90L1674.40 1090.30A2.8 2.8 0 1 0 1668.80 1090.30L1670.90 1099.90Z" fill="#000"/><path d="M1671.95 1099.29L1664.69 1092.68A2.8 2.8 0 1 0 1661.89 1097.52L1671.25 1100.51Z" fill="#000"/><path d="M1671.95 1100.51L1681.31 1097.52A2.8 2.8 0 1 0 1678.51 1092.68L1671.25 1099.29Z" fill="#000"/>
<rect x="500.85" y="399.95" width="84.3" height="98.1" rx="7" fill="none" stroke="#C0C0C0" stroke-width="1.7"/>
<path d="M501 483.3H585" stroke="#C0C0C0" stroke-width="1.7"/>
<text x="510.06" y="495.70" font-size="13.23" font-weight="bold" textLength="66.23" lengthAdjust="spacingAndGlyphs" fill="#C0C0C0">FLASHER</text>
<text x="539.24" y="413.40" font-size="11.34" font-weight="bold" textLength="15.82" lengthAdjust="spacingAndGlyphs" fill="#C0C0C0">IN</text>
<text x="510.63" y="444.50" font-size="12.79" font-weight="bold" textLength="14.46" lengthAdjust="spacingAndGlyphs" fill="#C0C0C0">IR</text>
<circle cx="549.10" cy="440.30" r="13.5" fill="none" stroke="#C0C0C0" stroke-width="1.7"/><circle cx="549.10" cy="440.30" r="7.8" fill="none" stroke="#C0C0C0" stroke-width="1.7"/>
<path d="M653.2 400H697.5A7 7 0 0 1 704.5 407V479.6H647.7V405.5A5.5 5.5 0 0 1 653.2 400Z" fill="#C0C0C0"/>
<path d="M590.3 481.5H705V491.5A7.4 7.4 0 0 1 697.6 498.9H597.7A7.4 7.4 0 0 1 590.3 491.5Z" fill="#C0C0C0"/>
<rect x="591.15" y="399.95" width="113" height="98.1" rx="7" fill="none" stroke="#C0C0C0" stroke-width="1.7"/>
<text x="608.73" y="413.40" font-size="11.34" font-weight="bold" textLength="15.94" lengthAdjust="spacingAndGlyphs" fill="#C0C0C0">IN</text>
<text x="665.00" y="413.40" font-size="11.34" font-weight="bold" textLength="30.96" lengthAdjust="spacingAndGlyphs" fill="#fff">OUT</text>
<text x="595.79" y="495.70" font-size="13.23" font-weight="bold" textLength="101.24" lengthAdjust="spacingAndGlyphs" fill="#fff">REMOTE CONTROL</text>
<circle cx="617.50" cy="440.30" r="20.8" fill="none" stroke="#C0C0C0" stroke-width="1.7"/><circle cx="617.50" cy="440.30" r="16.2" fill="none" stroke="#C0C0C0" stroke-width="1.7"/><circle cx="617.50" cy="440.30" r="11.6" fill="none" stroke="#C0C0C0" stroke-width="1.7"/><circle cx="617.50" cy="440.30" r="6.5" fill="none" stroke="#C0C0C0" stroke-width="1.7"/>
<circle cx="677.20" cy="440.30" r="19.60" fill="#fff"/><circle cx="677.20" cy="440.30" r="15.76" fill="none" stroke="#C0C0C0" stroke-width="1.5"/><circle cx="677.20" cy="440.30" r="11.72" fill="none" stroke="#C0C0C0" stroke-width="1.5"/><circle cx="677.20" cy="440.30" r="6.8" fill="none" stroke="#C0C0C0" stroke-width="1.5"/>
<path d="M719.6 482.4H866V491.5A7.4 7.4 0 0 1 858.6 498.9H727A7.4 7.4 0 0 1 719.6 491.5Z" fill="#C0C0C0"/>
<rect x="720.45" y="399.95" width="144.7" height="98.1" rx="7" fill="none" stroke="#C0C0C0" stroke-width="1.7"/>
<text x="739.34" y="413.80" font-size="11.92" font-weight="bold" textLength="110.65" lengthAdjust="spacingAndGlyphs" fill="#C0C0C0">STRAIGHT CABLE</text>
<text x="761.63" y="495.70" font-size="13.23" font-weight="bold" textLength="59.87" lengthAdjust="spacingAndGlyphs" fill="#fff">RS-232C</text>
<path d="M762 424.7H823.6Q830.3 424.7 829.3 431.4L825.2 453.8Q824.1 460.5 817.4 460.5H768.2Q761.5 460.5 760.4 453.8L756.3 431.4Q755.3 424.7 762 424.7Z" fill="none" stroke="#C0C0C0" stroke-width="1.7"/>
<circle cx="766.3" cy="435.7" r="3.2" fill="none" stroke="#C0C0C0" stroke-width="1.5"/>
<circle cx="779.4" cy="435.7" r="3.2" fill="none" stroke="#C0C0C0" stroke-width="1.5"/>
<circle cx="792.8" cy="435.7" r="3.2" fill="none" stroke="#C0C0C0" stroke-width="1.5"/>
<circle cx="805.8" cy="435.7" r="3.2" fill="none" stroke="#C0C0C0" stroke-width="1.5"/>
<circle cx="819" cy="435.7" r="3.2" fill="none" stroke="#C0C0C0" stroke-width="1.5"/>
<circle cx="773" cy="449.1" r="3.2" fill="none" stroke="#C0C0C0" stroke-width="1.5"/>
<circle cx="786" cy="449.1" r="3.2" fill="none" stroke="#C0C0C0" stroke-width="1.5"/>
<circle cx="799.2" cy="449.1" r="3.2" fill="none" stroke="#C0C0C0" stroke-width="1.5"/>
<circle cx="812.4" cy="449.1" r="3.2" fill="none" stroke="#C0C0C0" stroke-width="1.5"/>
<rect x="871.65" y="400.05" width="289.5" height="97.7" rx="8" fill="none" stroke="#C0C0C0" stroke-width="1.7"/>
<path d="M872 483.2H1161" stroke="#C0C0C0" stroke-width="1.7"/>
<text x="916.85" y="495.20" font-size="12.35" font-weight="bold" textLength="124.30" lengthAdjust="spacingAndGlyphs" fill="#C0C0C0">DIGITAL AUDIO IN</text>
<text x="1046.70" y="494.30" font-size="8.72" font-weight="bold" textLength="72.60" lengthAdjust="spacingAndGlyphs" fill="#C0C0C0">(ASSIGNABLE)</text>
<circle cx="907.80" cy="440.10" r="20.8" fill="none" stroke="#C0C0C0" stroke-width="1.7"/><circle cx="907.80" cy="440.10" r="16.2" fill="none" stroke="#C0C0C0" stroke-width="1.7"/><circle cx="907.80" cy="440.10" r="11.6" fill="none" stroke="#C0C0C0" stroke-width="1.7"/><circle cx="907.80" cy="440.10" r="6.5" fill="none" stroke="#C0C0C0" stroke-width="1.7"/>
<circle cx="967.40" cy="440.10" r="20.8" fill="none" stroke="#C0C0C0" stroke-width="1.7"/><circle cx="967.40" cy="440.10" r="16.2" fill="none" stroke="#C0C0C0" stroke-width="1.7"/><circle cx="967.40" cy="440.10" r="11.6" fill="none" stroke="#C0C0C0" stroke-width="1.7"/><circle cx="967.40" cy="440.10" r="6.5" fill="none" stroke="#C0C0C0" stroke-width="1.7"/>
<text x="874.82" y="413.90" font-size="11.77" font-weight="bold" textLength="47.68" lengthAdjust="spacingAndGlyphs" fill="#C0C0C0">1 CBL/SAT</text>
<text x="954.25" y="413.90" font-size="12.35" font-weight="bold" textLength="38.50" lengthAdjust="spacingAndGlyphs" fill="#C0C0C0">2 DVD</text>
<text x="1047.34" y="410.80" font-size="11.19" font-weight="bold" textLength="22.24" lengthAdjust="spacingAndGlyphs" fill="#C0C0C0">1 TV</text>
<text x="1044.63" y="420.80" font-size="12.35" font-weight="bold" textLength="34.62" lengthAdjust="spacingAndGlyphs" fill="#C0C0C0">AUDIO</text>
<text x="1112.34" y="410.80" font-size="11.19" font-weight="bold" textLength="42.54" lengthAdjust="spacingAndGlyphs" fill="#C0C0C0">2 MEDIA</text>
<text x="1112.00" y="420.80" font-size="12.35" font-weight="bold" textLength="42.52" lengthAdjust="spacingAndGlyphs" fill="#C0C0C0">PLAYER</text>
<text x="907.92" y="476.30" font-size="12.35" font-weight="bold" textLength="63.11" lengthAdjust="spacingAndGlyphs" fill="#C0C0C0">COAXIAL</text>
<text x="1035.88" y="476.30" font-size="12.35" font-weight="bold" textLength="55.61" lengthAdjust="spacingAndGlyphs" fill="#C0C0C0">OPTICAL</text>
<rect x="1009.95" y="423.25" width="43" height="39.5" rx="2" fill="none" stroke="#C0C0C0" stroke-width="1.7"/><path d="M1011.10 426.5H1051.90M1014.10 429.5H1048.90" stroke="#C0C0C0" stroke-width="1.3"/><path d="M1014.10 427V453L1022.10 461M1048.90 427V453L1040.90 461" fill="none" stroke="#C0C0C0" stroke-width="1.7"/><rect x="1027.60" y="444.5" width="7.5" height="17" fill="none" stroke="#C0C0C0" stroke-width="1.7"/>
<rect x="1074.65" y="423.25" width="43" height="39.5" rx="2" fill="none" stroke="#C0C0C0" stroke-width="1.7"/><path d="M1075.80 426.5H1116.60M1078.80 429.5H1113.60" stroke="#C0C0C0" stroke-width="1.3"/><path d="M1078.80 427V453L1086.80 461M1113.60 427V453L1105.60 461" fill="none" stroke="#C0C0C0" stroke-width="1.7"/><rect x="1092.30" y="444.5" width="7.5" height="17" fill="none" stroke="#C0C0C0" stroke-width="1.7"/>
<path d="M754 386V388.55A7 7 0 0 1 747 395.55H644.1A7 7 0 0 1 637.1 388.55V188A7 7 0 0 1 644.1 181H874" fill="none" stroke="#C0C0C0" stroke-width="1.7"/>
<path d="M637.5 380.6H754" stroke="#C0C0C0" stroke-width="1.7"/>
<circle cx="664.60" cy="218.40" r="21.0" fill="none" stroke="#C0C0C0" stroke-width="1.7"/><circle cx="664.60" cy="218.40" r="16.4" fill="none" stroke="#C0C0C0" stroke-width="1.7"/><circle cx="664.60" cy="218.40" r="11.8" fill="none" stroke="#C0C0C0" stroke-width="1.7"/><circle cx="664.60" cy="218.40" r="6.7" fill="none" stroke="#C0C0C0" stroke-width="1.7"/>
<circle cx="724.40" cy="218.40" r="21.0" fill="none" stroke="#C0C0C0" stroke-width="1.7"/><circle cx="724.40" cy="218.40" r="16.4" fill="none" stroke="#C0C0C0" stroke-width="1.7"/><circle cx="724.40" cy="218.40" r="11.8" fill="none" stroke="#C0C0C0" stroke-width="1.7"/><circle cx="724.40" cy="218.40" r="6.7" fill="none" stroke="#C0C0C0" stroke-width="1.7"/>
<circle cx="783.90" cy="218.40" r="21.0" fill="none" stroke="#C0C0C0" stroke-width="1.7"/><circle cx="783.90" cy="218.40" r="16.4" fill="none" stroke="#C0C0C0" stroke-width="1.7"/><circle cx="783.90" cy="218.40" r="11.8" fill="none" stroke="#C0C0C0" stroke-width="1.7"/><circle cx="783.90" cy="218.40" r="6.7" fill="none" stroke="#C0C0C0" stroke-width="1.7"/>
<circle cx="843.70" cy="218.40" r="21.0" fill="none" stroke="#C0C0C0" stroke-width="1.7"/><circle cx="843.70" cy="218.40" r="16.4" fill="none" stroke="#C0C0C0" stroke-width="1.7"/><circle cx="843.70" cy="218.40" r="11.8" fill="none" stroke="#C0C0C0" stroke-width="1.7"/><circle cx="843.70" cy="218.40" r="6.7" fill="none" stroke="#C0C0C0" stroke-width="1.7"/>
<circle cx="664.60" cy="278.30" r="21.0" fill="none" stroke="#C0C0C0" stroke-width="1.7"/><circle cx="664.60" cy="278.30" r="16.4" fill="none" stroke="#C0C0C0" stroke-width="1.7"/><circle cx="664.60" cy="278.30" r="11.8" fill="none" stroke="#C0C0C0" stroke-width="1.7"/><circle cx="664.60" cy="278.30" r="6.7" fill="none" stroke="#C0C0C0" stroke-width="1.7"/>
<circle cx="664.60" cy="337.90" r="21.0" fill="none" stroke="#C0C0C0" stroke-width="1.7"/><circle cx="664.60" cy="337.90" r="16.4" fill="none" stroke="#C0C0C0" stroke-width="1.7"/><circle cx="664.60" cy="337.90" r="11.8" fill="none" stroke="#C0C0C0" stroke-width="1.7"/><circle cx="664.60" cy="337.90" r="6.7" fill="none" stroke="#C0C0C0" stroke-width="1.7"/>
<circle cx="724.40" cy="278.30" r="21.0" fill="none" stroke="#C0C0C0" stroke-width="1.7"/><circle cx="724.40" cy="278.30" r="16.4" fill="none" stroke="#C0C0C0" stroke-width="1.7"/><circle cx="724.40" cy="278.30" r="11.8" fill="none" stroke="#C0C0C0" stroke-width="1.7"/><circle cx="724.40" cy="278.30" r="6.7" fill="none" stroke="#C0C0C0" stroke-width="1.7"/>
<circle cx="724.40" cy="337.90" r="21.0" fill="none" stroke="#C0C0C0" stroke-width="1.7"/><circle cx="724.40" cy="337.90" r="16.4" fill="none" stroke="#C0C0C0" stroke-width="1.7"/><circle cx="724.40" cy="337.90" r="11.8" fill="none" stroke="#C0C0C0" stroke-width="1.7"/><circle cx="724.40" cy="337.90" r="6.7" fill="none" stroke="#C0C0C0" stroke-width="1.7"/>
<path d="M686 218.4H703M686 337.9H703" stroke="#C0C0C0" stroke-width="4.5"/>
<rect x="639.70" y="183.50" width="14.40" height="14.30" rx="2.5" fill="#C0C0C0"/><text x="639.93" y="196.37" font-size="16.21" font-weight="bold" textLength="13.11" lengthAdjust="spacingAndGlyphs" fill="#fff">R</text>
<text x="667.81" y="193.90" font-size="12.65" font-weight="bold" textLength="50.74" lengthAdjust="spacingAndGlyphs" fill="#C0C0C0">FRONT</text>
<rect x="735.80" y="183.50" width="13.80" height="14.30" rx="2.5" fill="#C0C0C0"/><text x="735.74" y="196.37" font-size="16.21" font-weight="bold" textLength="13.14" lengthAdjust="spacingAndGlyphs" fill="#fff">L</text>
<text x="761.36" y="193.90" font-size="12.65" font-weight="bold" textLength="43.75" lengthAdjust="spacingAndGlyphs" fill="#C0C0C0">CENTER</text>
<text x="815.46" y="193.90" font-size="12.65" font-weight="bold" textLength="54.31" lengthAdjust="spacingAndGlyphs" fill="#C0C0C0">SUBWOOFER</text>
<text x="639.60" y="253.30" font-size="11.19" font-weight="bold" textLength="40.90" lengthAdjust="spacingAndGlyphs" fill="#C0C0C0">SURROUND</text>
<text x="651.73" y="374.20" font-size="11.05" font-weight="bold" textLength="84.16" lengthAdjust="spacingAndGlyphs" fill="#C0C0C0">SURROUND BACK</text>
<text x="664.77" y="392.20" font-size="11.19" font-weight="bold" textLength="60.52" lengthAdjust="spacingAndGlyphs" fill="#C0C0C0">7.1CH IN</text>
<path d="M755.7 378.7V252A8 8 0 0 1 763.7 244H873.4V378.7Z" fill="#C0C0C0"/>
<circle cx="784.10" cy="278.40" r="19.90" fill="#fff"/><circle cx="784.10" cy="278.40" r="16.0" fill="none" stroke="#C0C0C0" stroke-width="1.5"/><circle cx="784.10" cy="278.40" r="11.9" fill="none" stroke="#C0C0C0" stroke-width="1.5"/><circle cx="784.10" cy="278.40" r="6.9" fill="none" stroke="#C0C0C0" stroke-width="1.5"/>
<circle cx="784.10" cy="338.30" r="19.90" fill="#fff"/><circle cx="784.10" cy="338.30" r="16.0" fill="none" stroke="#C0C0C0" stroke-width="1.5"/><circle cx="784.10" cy="338.30" r="11.9" fill="none" stroke="#C0C0C0" stroke-width="1.5"/><circle cx="784.10" cy="338.30" r="6.9" fill="none" stroke="#C0C0C0" stroke-width="1.5"/>
<circle cx="843.60" cy="278.40" r="19.90" fill="#fff"/><circle cx="843.60" cy="278.40" r="16.0" fill="none" stroke="#C0C0C0" stroke-width="1.5"/><circle cx="843.60" cy="278.40" r="11.9" fill="none" stroke="#C0C0C0" stroke-width="1.5"/><circle cx="843.60" cy="278.40" r="6.9" fill="none" stroke="#C0C0C0" stroke-width="1.5"/>
<circle cx="843.60" cy="338.30" r="19.90" fill="#fff"/><circle cx="843.60" cy="338.30" r="16.0" fill="none" stroke="#C0C0C0" stroke-width="1.5"/><circle cx="843.60" cy="338.30" r="11.9" fill="none" stroke="#C0C0C0" stroke-width="1.5"/><circle cx="843.60" cy="338.30" r="6.9" fill="none" stroke="#C0C0C0" stroke-width="1.5"/>
<path d="M806.5 338.8H821.9" stroke="#fff" stroke-width="4.2"/>
<rect x="759.70" y="245.10" width="13.70" height="13.10" rx="2.5" fill="none" stroke="#fff" stroke-width="1.6"/><text x="760.79" y="256.40" font-size="13.52" font-weight="bold" textLength="11.95" lengthAdjust="spacingAndGlyphs" fill="#fff">R</text>
<text x="789.16" y="253.90" font-size="11.19" font-weight="bold" textLength="49.03" lengthAdjust="spacingAndGlyphs" fill="#fff">ZONE2</text>
<rect x="855.50" y="245.10" width="13.50" height="13.10" rx="2.5" fill="none" stroke="#fff" stroke-width="1.6"/><text x="856.36" y="256.40" font-size="13.52" font-weight="bold" textLength="12.26" lengthAdjust="spacingAndGlyphs" fill="#fff">L</text>
<text x="789.16" y="374.20" font-size="11.05" font-weight="bold" textLength="49.58" lengthAdjust="spacingAndGlyphs" fill="#fff">ZONE3</text>
<circle cx="903.60" cy="218.50" r="21.0" fill="none" stroke="#C0C0C0" stroke-width="1.7"/><circle cx="903.60" cy="218.50" r="16.4" fill="none" stroke="#C0C0C0" stroke-width="1.7"/><circle cx="903.60" cy="218.50" r="11.8" fill="none" stroke="#C0C0C0" stroke-width="1.7"/><circle cx="903.60" cy="218.50" r="6.7" fill="none" stroke="#C0C0C0" stroke-width="1.7"/>
<circle cx="903.60" cy="337.90" r="21.0" fill="none" stroke="#C0C0C0" stroke-width="1.7"/><circle cx="903.60" cy="337.90" r="16.4" fill="none" stroke="#C0C0C0" stroke-width="1.7"/><circle cx="903.60" cy="337.90" r="11.8" fill="none" stroke="#C0C0C0" stroke-width="1.7"/><circle cx="903.60" cy="337.90" r="6.7" fill="none" stroke="#C0C0C0" stroke-width="1.7"/>
<circle cx="963.60" cy="218.50" r="21.0" fill="none" stroke="#C0C0C0" stroke-width="1.7"/><circle cx="963.60" cy="218.50" r="16.4" fill="none" stroke="#C0C0C0" stroke-width="1.7"/><circle cx="963.60" cy="218.50" r="11.8" fill="none" stroke="#C0C0C0" stroke-width="1.7"/><circle cx="963.60" cy="218.50" r="6.7" fill="none" stroke="#C0C0C0" stroke-width="1.7"/>
<circle cx="963.60" cy="337.90" r="21.0" fill="none" stroke="#C0C0C0" stroke-width="1.7"/><circle cx="963.60" cy="337.90" r="16.4" fill="none" stroke="#C0C0C0" stroke-width="1.7"/><circle cx="963.60" cy="337.90" r="11.8" fill="none" stroke="#C0C0C0" stroke-width="1.7"/><circle cx="963.60" cy="337.90" r="6.7" fill="none" stroke="#C0C0C0" stroke-width="1.7"/>
<circle cx="1023.20" cy="218.50" r="21.0" fill="none" stroke="#C0C0C0" stroke-width="1.7"/><circle cx="1023.20" cy="218.50" r="16.4" fill="none" stroke="#C0C0C0" stroke-width="1.7"/><circle cx="1023.20" cy="218.50" r="11.8" fill="none" stroke="#C0C0C0" stroke-width="1.7"/><circle cx="1023.20" cy="218.50" r="6.7" fill="none" stroke="#C0C0C0" stroke-width="1.7"/>
<circle cx="1023.20" cy="337.90" r="21.0" fill="none" stroke="#C0C0C0" stroke-width="1.7"/><circle cx="1023.20" cy="337.90" r="16.4" fill="none" stroke="#C0C0C0" stroke-width="1.7"/><circle cx="1023.20" cy="337.90" r="11.8" fill="none" stroke="#C0C0C0" stroke-width="1.7"/><circle cx="1023.20" cy="337.90" r="6.7" fill="none" stroke="#C0C0C0" stroke-width="1.7"/>
<circle cx="1082.80" cy="218.50" r="21.0" fill="none" stroke="#C0C0C0" stroke-width="1.7"/><circle cx="1082.80" cy="218.50" r="16.4" fill="none" stroke="#C0C0C0" stroke-width="1.7"/><circle cx="1082.80" cy="218.50" r="11.8" fill="none" stroke="#C0C0C0" stroke-width="1.7"/><circle cx="1082.80" cy="218.50" r="6.7" fill="none" stroke="#C0C0C0" stroke-width="1.7"/>
<circle cx="1082.80" cy="337.90" r="21.0" fill="none" stroke="#C0C0C0" stroke-width="1.7"/><circle cx="1082.80" cy="337.90" r="16.4" fill="none" stroke="#C0C0C0" stroke-width="1.7"/><circle cx="1082.80" cy="337.90" r="11.8" fill="none" stroke="#C0C0C0" stroke-width="1.7"/><circle cx="1082.80" cy="337.90" r="6.7" fill="none" stroke="#C0C0C0" stroke-width="1.7"/>
<circle cx="1142.60" cy="218.50" r="21.0" fill="none" stroke="#C0C0C0" stroke-width="1.7"/><circle cx="1142.60" cy="218.50" r="16.4" fill="none" stroke="#C0C0C0" stroke-width="1.7"/><circle cx="1142.60" cy="218.50" r="11.8" fill="none" stroke="#C0C0C0" stroke-width="1.7"/><circle cx="1142.60" cy="218.50" r="6.7" fill="none" stroke="#C0C0C0" stroke-width="1.7"/>
<circle cx="1142.60" cy="337.90" r="21.0" fill="none" stroke="#C0C0C0" stroke-width="1.7"/><circle cx="1142.60" cy="337.90" r="16.4" fill="none" stroke="#C0C0C0" stroke-width="1.7"/><circle cx="1142.60" cy="337.90" r="11.8" fill="none" stroke="#C0C0C0" stroke-width="1.7"/><circle cx="1142.60" cy="337.90" r="6.7" fill="none" stroke="#C0C0C0" stroke-width="1.7"/>
<circle cx="903.60" cy="278.30" r="21.0" fill="none" stroke="#C0C0C0" stroke-width="1.7"/><circle cx="903.60" cy="278.30" r="16.4" fill="none" stroke="#C0C0C0" stroke-width="1.7"/><circle cx="903.60" cy="278.30" r="11.8" fill="none" stroke="#C0C0C0" stroke-width="1.7"/><circle cx="903.60" cy="278.30" r="6.7" fill="none" stroke="#C0C0C0" stroke-width="1.7"/>
<circle cx="963.60" cy="278.30" r="21.0" fill="none" stroke="#C0C0C0" stroke-width="1.7"/><circle cx="963.60" cy="278.30" r="16.4" fill="none" stroke="#C0C0C0" stroke-width="1.7"/><circle cx="963.60" cy="278.30" r="11.8" fill="none" stroke="#C0C0C0" stroke-width="1.7"/><circle cx="963.60" cy="278.30" r="6.7" fill="none" stroke="#C0C0C0" stroke-width="1.7"/>
<circle cx="1082.80" cy="278.30" r="21.0" fill="none" stroke="#C0C0C0" stroke-width="1.7"/><circle cx="1082.80" cy="278.30" r="16.4" fill="none" stroke="#C0C0C0" stroke-width="1.7"/><circle cx="1082.80" cy="278.30" r="11.8" fill="none" stroke="#C0C0C0" stroke-width="1.7"/><circle cx="1082.80" cy="278.30" r="6.7" fill="none" stroke="#C0C0C0" stroke-width="1.7"/>
<circle cx="1142.60" cy="278.30" r="21.0" fill="none" stroke="#C0C0C0" stroke-width="1.7"/><circle cx="1142.60" cy="278.30" r="16.4" fill="none" stroke="#C0C0C0" stroke-width="1.7"/><circle cx="1142.60" cy="278.30" r="11.8" fill="none" stroke="#C0C0C0" stroke-width="1.7"/><circle cx="1142.60" cy="278.30" r="6.7" fill="none" stroke="#C0C0C0" stroke-width="1.7"/>
<path d="M925 218.5H942M1104 218.5H1121M1104 278.3H1121M925 337.9H942M1104 337.9H1121" stroke="#C0C0C0" stroke-width="4.5"/>
<rect x="878.90" y="183.50" width="14.30" height="14.30" rx="2.5" fill="#C0C0C0"/><text x="879.12" y="196.37" font-size="16.21" font-weight="bold" textLength="13.02" lengthAdjust="spacingAndGlyphs" fill="#fff">R</text>
<text x="907.13" y="194.20" font-size="12.21" font-weight="bold" textLength="50.03" lengthAdjust="spacingAndGlyphs" fill="#C0C0C0">FRONT</text>
<rect x="974.60" y="183.50" width="14.30" height="14.30" rx="2.5" fill="#C0C0C0"/><text x="974.54" y="196.37" font-size="16.21" font-weight="bold" textLength="13.62" lengthAdjust="spacingAndGlyphs" fill="#fff">L</text>
<text x="993.21" y="194.20" font-size="12.21" font-weight="bold" textLength="59.19" lengthAdjust="spacingAndGlyphs" fill="#C0C0C0">CENTER</text>
<rect x="1057.50" y="183.50" width="15.30" height="14.30" rx="2.5" fill="#C0C0C0"/><text x="1057.74" y="196.37" font-size="16.21" font-weight="bold" textLength="13.93" lengthAdjust="spacingAndGlyphs" fill="#fff">R</text>
<text x="1083.19" y="194.20" font-size="12.21" font-weight="bold" textLength="59.09" lengthAdjust="spacingAndGlyphs" fill="#C0C0C0">HEIGHT1</text>
<rect x="1153.60" y="183.50" width="14.40" height="14.30" rx="2.5" fill="#C0C0C0"/><text x="1153.54" y="196.37" font-size="16.21" font-weight="bold" textLength="13.71" lengthAdjust="spacingAndGlyphs" fill="#fff">L</text>
<text x="895.53" y="253.50" font-size="11.77" font-weight="bold" textLength="74.51" lengthAdjust="spacingAndGlyphs" fill="#C0C0C0">SURROUND</text>
<text x="1080.82" y="253.50" font-size="11.77" font-weight="bold" textLength="63.47" lengthAdjust="spacingAndGlyphs" fill="#C0C0C0">HEIGHT2</text>
<text x="993.73" y="324.00" font-size="11.19" font-weight="bold" textLength="9.13" lengthAdjust="spacingAndGlyphs" fill="#C0C0C0">2</text>
<text x="886.30" y="374.70" font-size="11.77" font-weight="bold" textLength="94.50" lengthAdjust="spacingAndGlyphs" fill="#C0C0C0">SURROUND BACK</text>
<text x="1059.55" y="374.70" font-size="11.77" font-weight="bold" textLength="106.13" lengthAdjust="spacingAndGlyphs" fill="#C0C0C0">HEIGHT3/FRONT WIDE</text>
<circle cx="1023.20" cy="278.30" r="20.9" fill="none" stroke="#000" stroke-width="2.2"/><circle cx="1023.20" cy="278.30" r="16.0" fill="none" stroke="#000" stroke-width="2.2"/><circle cx="1023.20" cy="278.30" r="11.4" fill="none" stroke="#000" stroke-width="2.2"/><circle cx="1023.20" cy="278.30" r="6.7" fill="none" stroke="#000" stroke-width="2.2"/>
<text x="988.60" y="253.50" font-size="10.47" font-weight="bold" textLength="69.12" lengthAdjust="spacingAndGlyphs" fill="#000">SUBWOOFER</text>
<text x="993.98" y="267.00" font-size="10.47" font-weight="bold" textLength="6.33" lengthAdjust="spacingAndGlyphs" fill="#000">1</text>
<path d="M754.4 386V250A8.5 8.5 0 0 1 762.9 241.5H865A8.5 8.5 0 0 0 873.5 233V190A9 9 0 0 1 882.5 181H1188.5A9 9 0 0 1 1197.5 190V386" fill="none" stroke="#000" stroke-width="2.6"/>
<path d="M753.1 381.9H1198.8V385.3A11 11 0 0 1 1187.8 396.3H764.1A11 11 0 0 1 753.1 385.3Z" fill="#000"/>
<text x="933.52" y="392.70" font-size="11.77" font-weight="bold" textLength="64.93" lengthAdjust="spacingAndGlyphs" fill="#fff">PRE OUT</text>
<path d="M133.8 860V303.3A25 25 0 0 1 158.8 278.3H857" fill="none" stroke="#fff" stroke-width="25"/>
<path d="M845 266H852L894 257V250.2H955V255H971.6V266.8H995V289.5H971.6V301.4H955V306H894V299.5L852 292.6H845Z" fill="#fff"/>
<path d="M133.8 860V303.3A25 25 0 0 1 158.8 278.3H857" fill="none" stroke="#000" stroke-width="12.4"/>
<path d="M856.8 271L896 264V292.7L856.8 285.7Z" fill="#fff" stroke="#000" stroke-width="3.5" stroke-linejoin="miter"/>
<rect x="955.6" y="261" width="10" height="34.4" fill="#fff" stroke="#000" stroke-width="3"/>
<path d="M965.6 273.3H983.45A4.85 4.85 0 0 1 983.45 283H965.6Z" fill="#fff" stroke="#000" stroke-width="3"/>
<rect x="896.2" y="256.2" width="59" height="43.8" fill="#fff" stroke="#000" stroke-width="3.85"/>
<path d="M942.2 256V300M947.6 256V300" stroke="#000" stroke-width="2.6"/>
<path d="M40.65 1046.65V903.2L74 858.95H190.6L223.45 903.2V1046.65Z" fill="#fff" stroke="#000" stroke-width="4.9"/>
<path d="M49 892.5H215" stroke="#000" stroke-width="2"/>
<path d="M40.6 903.8H223.5" stroke="#000" stroke-width="5.4"/>
<rect x="45.4" y="910.2" width="172.6" height="118" fill="none" stroke="#000" stroke-width="1.6"/>
<path d="M43 1028.9H221" stroke="#000" stroke-width="4.5"/>
<path d="M43 1033.6H221" stroke="#000" stroke-width="1.5"/>
<rect x="58.2" y="1032.7" width="21.5" height="4.6" rx="1.5" fill="#C0C0C0" stroke="#000" stroke-width="1.2"/>
<rect x="183.6" y="1032.7" width="22.3" height="4.6" rx="1.5" fill="#C0C0C0" stroke="#000" stroke-width="1.2"/>
</svg></body></html>
